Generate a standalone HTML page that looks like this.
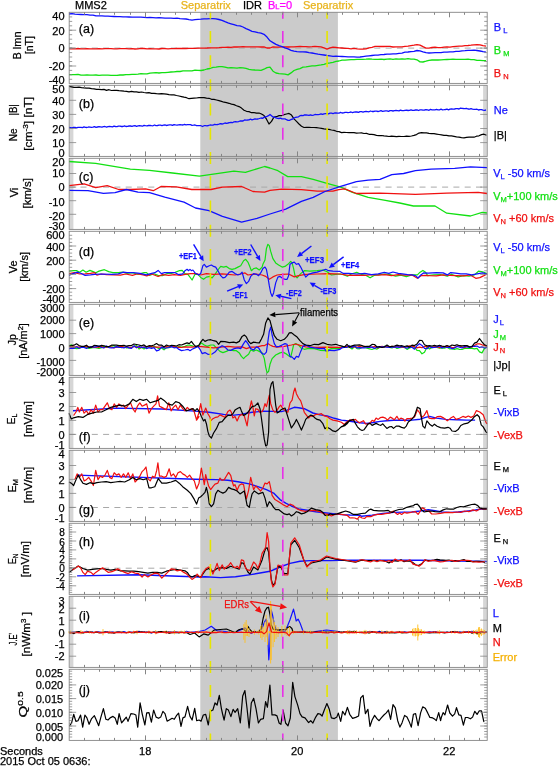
<!DOCTYPE html>
<html><head><meta charset="utf-8"><style>html,body{margin:0;padding:0;background:#fff;overflow:hidden}svg{display:block;will-change:transform}text{font-family:"Liberation Sans",sans-serif;stroke-width:0.25px}</style></head>
<body>
<svg width="560" height="766" viewBox="0 0 560 766" font-family="'Liberation Sans', sans-serif">
<rect width="560" height="766" fill="#fff"/>
<rect x="200.3" y="12.3" width="137.59999999999997" height="728.1" fill="#cbcbcb"/>
<rect x="69.8" y="85.3" width="3.6" height="71.1" fill="#d6d6d6"/>
<rect x="483.09999999999997" y="85.3" width="3.6" height="71.1" fill="#d6d6d6"/>
<rect x="69.8" y="158.3" width="3.6" height="71.1" fill="#d6d6d6"/>
<rect x="483.09999999999997" y="158.3" width="3.6" height="71.1" fill="#d6d6d6"/>
<rect x="69.8" y="304.3" width="3.6" height="71.1" fill="#d6d6d6"/>
<rect x="483.09999999999997" y="304.3" width="3.6" height="71.1" fill="#d6d6d6"/>
<rect x="69.8" y="377.3" width="3.6" height="71.1" fill="#d6d6d6"/>
<rect x="483.09999999999997" y="377.3" width="3.6" height="71.1" fill="#d6d6d6"/>
<rect x="69.8" y="450.3" width="3.6" height="71.1" fill="#d6d6d6"/>
<rect x="483.09999999999997" y="450.3" width="3.6" height="71.1" fill="#d6d6d6"/>
<rect x="69.8" y="596.3" width="3.6" height="71.1" fill="#d6d6d6"/>
<rect x="483.09999999999997" y="596.3" width="3.6" height="71.1" fill="#d6d6d6"/>
<line x1="69.2" y1="48.1" x2="487.2" y2="48.1" stroke="#a8a8a8" stroke-width="1" stroke-dasharray="6,5.3"/>
<line x1="69.2" y1="187.1" x2="487.2" y2="187.1" stroke="#a8a8a8" stroke-width="1" stroke-dasharray="6,5.3"/>
<line x1="69.2" y1="434.4" x2="487.2" y2="434.4" stroke="#a8a8a8" stroke-width="1" stroke-dasharray="6,5.3"/>
<line x1="69.2" y1="507.5" x2="487.2" y2="507.5" stroke="#a8a8a8" stroke-width="1" stroke-dasharray="6,5.3"/>
<line x1="69.2" y1="568.2" x2="487.2" y2="568.2" stroke="#a8a8a8" stroke-width="1" stroke-dasharray="6,5.3"/>
<polyline points="69.0,48.8 72.0,48.8 75.0,48.8 78.0,48.5 81.0,48.9 84.0,48.8 87.0,48.6 90.0,48.8 93.0,48.8 96.0,48.8 99.0,48.7 102.0,48.8 105.0,48.6 108.0,48.7 111.0,48.7 114.0,48.8 117.0,48.8 120.0,48.7 123.0,48.6 126.0,48.7 129.0,48.8 132.0,48.7 135.0,49.0 138.0,48.9 141.0,48.4 144.0,48.5 147.0,48.8 150.0,48.7 153.0,48.8 156.0,48.8 159.0,49.0 162.0,48.5 165.0,48.6 168.0,48.9 171.0,48.7 174.0,48.7 177.0,48.5 180.0,48.3 183.0,48.5 186.0,48.5 189.0,48.3 192.0,48.3 195.0,48.4 198.0,48.2 201.0,48.2 204.0,48.1 207.0,48.0 210.0,47.8 213.0,47.8 216.0,47.8 219.0,47.6 222.0,47.3 225.0,47.4 228.0,47.2 231.0,47.3 234.0,46.9 237.0,47.0 240.0,46.8 243.0,46.6 246.0,46.8 249.0,46.9 252.0,46.9 255.0,46.8 258.0,46.8 261.0,47.0 264.0,46.9 267.0,48.0 270.0,48.0 273.0,46.9 276.0,47.2 279.0,47.2 282.0,46.9 285.0,46.8 288.0,47.0 291.0,46.8 294.0,46.9 297.0,46.6 300.0,46.4 303.0,46.6 306.0,46.6 309.0,46.8 312.0,46.7 315.0,46.5 318.0,46.6 321.0,46.9 324.0,47.9 327.0,49.2 330.0,47.9 333.0,47.2 336.0,47.5 339.0,47.8 342.0,48.0 345.0,48.3 348.0,48.4 351.0,48.8 354.0,48.4 357.0,48.9 360.0,49.1 363.0,49.0 366.0,48.8 369.0,47.9 372.0,47.3 375.0,46.3 378.0,46.3 381.0,46.5 384.0,46.5 387.0,46.4 390.0,46.4 393.0,47.0 396.0,46.8 399.0,46.9 402.0,46.8 405.0,46.3 408.0,46.1 411.0,45.6 414.0,45.2 417.0,44.7 420.0,45.2 423.0,46.7 426.0,48.1 429.0,48.1 432.0,47.5 435.0,47.2 438.0,47.6 441.0,47.7 444.0,47.1 447.0,46.9 450.0,47.1 453.0,46.6 456.0,46.4 459.0,46.2 462.0,46.1 465.0,45.7 468.0,45.5 471.0,45.2 474.0,44.8 477.0,44.6 480.0,44.9 483.0,45.7 486.0,46.1" fill="none" stroke="#f01010" stroke-width="1.3" stroke-linejoin="round" />
<polyline points="69.0,74.6 72.0,74.6 75.0,74.6 78.0,74.3 81.0,75.1 84.0,75.1 87.0,74.9 90.0,75.1 93.0,75.1 96.0,75.0 99.0,75.3 102.0,75.1 105.0,75.2 108.0,75.1 111.0,75.4 114.0,75.4 117.0,75.4 120.0,75.0 123.0,75.0 126.0,74.6 129.0,74.7 132.0,74.4 135.0,74.3 138.0,74.1 141.0,73.7 144.0,73.8 147.0,73.9 150.0,73.1 153.0,72.9 156.0,72.7 159.0,73.0 162.0,72.7 165.0,72.6 168.0,72.3 171.0,72.0 174.0,71.8 177.0,71.5 180.0,71.5 183.0,70.9 186.0,70.9 189.0,70.8 192.0,70.8 195.0,70.2 198.0,70.4 201.0,70.5 204.0,70.0 207.0,69.0 210.0,68.5 213.0,67.3 216.0,67.2 219.0,66.6 222.0,66.6 225.0,67.2 228.0,67.8 231.0,67.7 234.0,67.9 237.0,68.1 240.0,67.7 243.0,67.8 246.0,68.4 249.0,69.4 252.0,69.8 255.0,70.0 258.0,70.1 261.0,70.4 264.0,69.2 267.0,67.6 270.0,67.2 273.0,71.2 276.0,73.0 279.0,73.6 282.0,73.8 285.0,74.2 288.0,74.9 291.0,72.9 294.0,70.5 297.0,69.4 300.0,68.7 303.0,67.2 306.0,66.8 309.0,66.3 312.0,65.9 315.0,65.8 318.0,65.3 321.0,64.9 324.0,64.3 327.0,63.4 330.0,62.9 333.0,62.3 336.0,61.3 339.0,61.0 342.0,60.1 345.0,60.1 348.0,59.8 351.0,59.7 354.0,59.6 357.0,59.4 360.0,59.3 363.0,59.3 366.0,59.2 369.0,59.0 372.0,59.2 375.0,59.3 378.0,59.3 381.0,59.2 384.0,59.5 387.0,59.1 390.0,58.9 393.0,59.4 396.0,58.8 399.0,59.2 402.0,58.9 405.0,59.1 408.0,58.7 411.0,59.2 414.0,59.1 417.0,59.8 420.0,61.9 423.0,62.0 426.0,61.2 429.0,60.3 432.0,60.0 435.0,59.9 438.0,60.0 441.0,59.9 444.0,59.6 447.0,59.5 450.0,59.4 453.0,59.2 456.0,59.3 459.0,59.3 462.0,59.3 465.0,59.4 468.0,59.1 471.0,59.6 474.0,59.7 477.0,60.4 480.0,60.3 483.0,60.7 486.0,60.7" fill="none" stroke="#12e012" stroke-width="1.3" stroke-linejoin="round" />
<polyline points="69.0,14.0 72.0,13.7 75.0,14.2 78.0,14.3 81.0,14.5 84.0,14.7 87.0,14.7 90.0,15.1 93.0,15.2 96.0,15.9 99.0,15.8 102.0,15.9 105.0,16.1 108.0,16.2 111.0,16.4 114.0,16.5 117.0,16.7 120.0,16.7 123.0,16.9 126.0,16.9 129.0,17.0 132.0,17.2 135.0,17.2 138.0,17.1 141.0,17.2 144.0,17.4 147.0,17.7 150.0,17.5 153.0,17.6 156.0,17.8 159.0,17.7 162.0,17.9 165.0,18.1 168.0,18.2 171.0,18.2 174.0,18.4 177.0,18.1 180.0,18.6 183.0,18.8 186.0,19.0 189.0,19.7 192.0,20.1 195.0,19.7 198.0,19.4 201.0,19.2 204.0,18.9 207.0,18.9 210.0,18.7 213.0,18.6 216.0,18.8 219.0,19.5 222.0,20.3 225.0,21.7 228.0,22.9 231.0,23.8 234.0,24.7 237.0,25.6 240.0,25.8 243.0,27.0 246.0,28.6 249.0,29.9 252.0,31.3 255.0,31.9 258.0,32.7 261.0,33.2 264.0,34.3 267.0,37.1 270.0,40.8 273.0,42.6 276.0,44.4 279.0,45.7 282.0,46.6 285.0,47.9 288.0,48.9 291.0,50.3 294.0,51.2 297.0,51.7 300.0,51.8 303.0,51.9 306.0,52.0 309.0,52.6 312.0,53.0 315.0,53.6 318.0,54.2 321.0,54.6 324.0,55.0 327.0,55.5 330.0,55.9 333.0,56.3 336.0,56.1 339.0,56.4 342.0,56.5 345.0,56.7 348.0,56.9 351.0,56.8 354.0,56.9 357.0,57.1 360.0,57.0 363.0,56.6 366.0,56.2 369.0,55.8 372.0,55.5 375.0,55.2 378.0,55.1 381.0,54.7 384.0,54.5 387.0,54.2 390.0,54.1 393.0,53.8 396.0,53.8 399.0,53.4 402.0,53.1 405.0,52.2 408.0,52.0 411.0,51.6 414.0,51.3 417.0,50.5 420.0,50.9 423.0,51.9 426.0,52.7 429.0,53.0 432.0,52.8 435.0,52.7 438.0,52.6 441.0,52.6 444.0,52.1 447.0,52.1 450.0,51.8 453.0,51.8 456.0,51.4 459.0,51.3 462.0,50.8 465.0,50.7 468.0,50.4 471.0,50.4 474.0,50.1 477.0,50.5 480.0,51.0 483.0,51.7 486.0,52.1" fill="none" stroke="#1010ff" stroke-width="1.3" stroke-linejoin="round" />
<polyline points="69.0,86.5 71.5,86.8 74.0,87.4 76.5,87.4 79.0,87.2 81.5,87.7 84.0,87.8 86.5,88.2 89.0,88.1 91.5,88.7 94.0,88.9 96.5,89.4 99.0,89.4 101.5,89.6 104.0,89.4 106.5,90.4 109.0,89.7 111.5,90.5 114.0,90.4 116.5,90.4 119.0,90.7 121.5,90.8 124.0,91.2 126.5,91.3 129.0,91.8 131.5,91.3 134.0,91.9 136.5,91.8 139.0,92.4 141.5,92.0 144.0,92.5 146.5,92.8 149.0,92.6 151.5,93.3 154.0,93.3 156.5,93.7 159.0,93.9 161.5,93.7 164.0,93.9 166.5,94.2 169.0,94.6 171.5,94.8 174.0,94.9 176.5,95.5 179.0,96.0 181.5,96.6 184.0,97.2 186.5,97.7 189.0,98.7 191.5,98.3 194.0,98.1 196.5,98.0 199.0,97.6 201.5,97.5 204.0,97.6 206.5,98.2 209.0,98.3 211.5,99.3 214.0,99.4 216.5,100.0 219.0,100.7 221.5,101.4 224.0,102.2 226.5,102.7 229.0,103.3 231.5,104.1 234.0,104.6 236.5,105.7 239.0,106.6 241.5,108.1 244.0,110.3 246.5,111.3 249.0,111.6 251.5,112.7 254.0,112.6 256.5,113.1 259.0,113.0 261.5,114.0 264.0,115.6 266.5,119.2 269.0,124.0 271.5,121.4 274.0,117.0 276.5,116.7 279.0,115.6 281.5,115.7 284.0,114.6 286.5,114.0 289.0,113.4 291.5,115.1 294.0,118.8 296.5,121.3 299.0,124.0 301.5,126.2 304.0,127.5 306.5,127.3 309.0,127.3 311.5,127.5 314.0,127.5 316.5,127.7 319.0,128.0 321.5,128.3 324.0,128.8 326.5,129.1 329.0,129.3 331.5,130.0 334.0,130.4 336.5,131.3 339.0,131.6 341.5,132.6 344.0,132.4 346.5,132.5 349.0,132.7 351.5,132.7 354.0,132.7 356.5,133.1 359.0,133.0 361.5,132.9 364.0,133.5 366.5,133.4 369.0,134.3 371.5,134.3 374.0,134.6 376.5,135.3 379.0,135.6 381.5,135.5 384.0,135.9 386.5,136.2 389.0,136.5 391.5,136.2 394.0,136.3 396.5,136.6 399.0,136.4 401.5,136.5 404.0,136.5 406.5,136.2 409.0,136.3 411.5,136.0 414.0,135.4 416.5,134.6 419.0,133.1 421.5,132.6 424.0,132.8 426.5,132.9 429.0,133.3 431.5,133.6 434.0,133.7 436.5,134.1 439.0,134.5 441.5,134.9 444.0,135.3 446.5,135.3 449.0,135.9 451.5,135.9 454.0,136.4 456.5,136.9 459.0,137.2 461.5,137.6 464.0,137.8 466.5,137.4 469.0,137.2 471.5,137.1 474.0,137.2 476.5,136.2 479.0,135.8 481.5,134.6 484.0,134.2 486.5,135.3" fill="none" stroke="#000" stroke-width="1.2" stroke-linejoin="round" />
<polyline points="69.0,127.5 70.5,127.7 72.0,127.9 73.5,127.4 75.0,127.3 76.5,127.9 78.0,127.3 79.5,127.3 81.0,127.4 82.5,127.6 84.0,126.9 85.5,127.3 87.0,127.5 88.5,127.0 90.0,127.1 91.5,127.3 93.0,127.2 94.5,126.6 96.0,127.3 97.5,127.0 99.0,126.7 100.5,126.8 102.0,127.1 103.5,126.7 105.0,126.5 106.5,127.1 108.0,126.6 109.5,126.5 111.0,126.6 112.5,126.9 114.0,126.2 115.5,126.5 117.0,126.7 118.5,126.2 120.0,126.2 121.5,126.5 123.0,126.5 124.5,125.8 126.0,126.5 127.5,126.3 129.0,126.0 130.5,126.0 132.0,126.4 133.5,125.9 135.0,125.7 136.5,126.3 138.0,125.9 139.5,125.7 141.0,125.8 142.5,126.2 144.0,125.4 145.5,125.7 147.0,125.9 148.5,125.5 150.0,125.4 151.5,125.7 153.0,125.8 154.5,125.0 156.0,125.6 157.5,125.5 159.0,125.2 160.5,125.1 162.0,125.6 163.5,125.2 165.0,124.9 166.5,125.5 168.0,125.1 169.5,124.9 171.0,124.9 172.5,125.4 174.0,124.6 175.5,124.9 177.0,125.1 178.5,124.8 180.0,124.6 181.5,124.9 183.0,125.0 184.5,124.3 186.0,124.8 187.5,124.7 189.0,124.7 190.5,124.6 192.0,125.3 193.5,125.2 195.0,125.0 196.5,125.7 198.0,125.7 199.5,125.6 201.0,125.7 202.5,126.5 204.0,125.7 205.5,125.7 207.0,125.8 208.5,125.5 210.0,125.0 211.5,125.1 213.0,125.2 214.5,124.3 216.0,124.6 217.5,124.5 219.0,124.1 220.5,123.6 222.0,124.0 223.5,123.6 225.0,123.0 226.5,123.3 228.0,123.0 229.5,122.6 231.0,122.3 232.5,122.7 234.0,121.8 235.5,121.7 237.0,121.8 238.5,121.6 240.0,121.0 241.5,121.0 243.0,121.0 244.5,120.0 246.0,120.1 247.5,120.0 249.0,119.8 250.5,119.2 252.0,119.8 253.5,119.4 255.0,118.8 256.5,119.1 258.0,119.0 259.5,118.5 261.0,118.0 262.5,118.4 264.0,117.4 265.5,116.8 267.0,116.3 268.5,115.7 270.0,114.5 271.5,115.8 273.0,117.1 274.5,117.2 276.0,117.9 277.5,118.3 279.0,118.5 280.5,118.1 282.0,118.9 283.5,118.9 285.0,118.9 286.5,119.7 288.0,120.3 289.5,120.4 291.0,119.5 292.5,119.2 294.0,118.0 295.5,117.4 297.0,117.1 298.5,116.8 300.0,115.7 301.5,115.5 303.0,115.7 304.5,114.8 306.0,115.0 307.5,115.2 309.0,115.4 310.5,114.8 312.0,115.3 313.5,115.1 315.0,114.5 316.5,114.6 318.0,114.7 319.5,114.3 321.0,113.8 322.5,114.4 324.0,113.8 325.5,113.6 327.0,113.6 328.5,113.8 330.0,113.1 331.5,113.2 333.0,113.6 334.5,113.0 336.0,112.9 337.5,113.1 339.0,113.2 340.5,112.4 342.0,113.0 343.5,112.9 345.0,112.4 346.5,112.4 348.0,112.7 349.5,112.4 351.0,112.0 352.5,112.6 354.0,112.2 355.5,112.0 357.0,112.0 358.5,112.3 360.0,111.6 361.5,111.7 363.0,112.1 364.5,111.6 366.0,111.4 367.5,111.6 369.0,111.8 370.5,111.0 372.0,111.5 373.5,111.5 375.0,111.2 376.5,111.1 378.0,111.5 379.5,111.2 381.0,110.7 382.5,111.4 384.0,111.1 385.5,110.8 387.0,110.8 388.5,111.3 390.0,110.6 391.5,110.6 393.0,111.0 394.5,110.7 396.0,110.5 397.5,110.6 399.0,110.9 400.5,110.1 402.0,110.6 403.5,110.6 405.0,110.3 406.5,110.1 408.0,110.5 409.5,110.4 411.0,109.8 412.5,110.4 414.0,110.3 415.5,110.0 417.0,109.9 418.5,110.5 420.0,109.9 421.5,109.8 423.0,110.2 424.5,110.0 426.0,109.7 427.5,109.9 429.0,110.3 430.5,109.4 432.0,109.8 433.5,109.9 435.0,109.8 436.5,109.4 438.0,109.9 439.5,109.8 441.0,109.2 442.5,109.8 444.0,109.7 445.5,109.5 447.0,109.2 448.5,109.8 450.0,109.1 451.5,108.9 453.0,109.2 454.5,109.0 456.0,108.6 457.5,108.6 459.0,109.0 460.5,108.1 462.0,108.3 463.5,108.5 465.0,108.6 466.5,108.3 468.0,109.0 469.5,109.1 471.0,108.6 472.5,109.2 474.0,109.4 475.5,109.3 477.0,109.2 478.5,110.0 480.0,109.6 481.5,109.6 483.0,110.1 484.5,110.3 486.0,110.0" fill="none" stroke="#1010ff" stroke-width="1.3" stroke-linejoin="round" />
<polyline points="69.0,161.5 95.7,163.4 130.3,169.2 149.5,170.4 172.5,173.0 199.4,176.1 218.5,173.4 233.9,171.1 245.4,172.3 264.6,166.5 270.0,168.0 277.9,170.7 287.7,176.6 301.4,176.6 313.2,179.4 327.0,183.3 340.7,187.2 352.5,192.3 368.2,197.4 384.0,200.2 399.7,203.0 413.4,206.0 435.0,206.0 446.8,213.2 470.4,216.0 482.2,212.4 487.0,213.0" fill="none" stroke="#12e012" stroke-width="1.3" stroke-linejoin="round" />
<polyline points="69.0,185.7 84.2,183.8 95.7,187.6 107.2,185.7 118.7,189.5 130.3,189.5 145.6,188.8 153.3,190.7 161.0,186.5 176.3,186.9 191.7,189.5 210.9,189.5 222.4,187.2 241.6,186.5 253.0,191.5 264.6,192.2 270.0,190.4 281.8,189.2 301.4,189.6 317.2,191.1 332.9,191.1 338.8,189.6 344.7,188.8 356.4,193.5 380.0,193.1 415.4,194.3 446.8,193.1 478.2,192.3 487.0,193.5" fill="none" stroke="#f01010" stroke-width="1.3" stroke-linejoin="round" />
<polyline points="69.0,190.3 88.0,190.7 103.4,193.4 115.0,192.6 126.4,189.5 138.0,192.2 149.5,192.6 164.8,197.2 184.0,202.2 195.5,208.0 209.0,210.7 222.4,216.4 241.6,222.2 257.0,218.3 270.0,214.0 285.7,209.2 301.4,201.4 313.2,197.4 325.0,191.5 340.7,186.4 356.4,181.7 368.2,180.1 380.0,179.4 391.8,174.6 403.6,173.5 415.4,170.7 431.1,169.1 454.7,168.4 470.4,166.8 487.0,167.6" fill="none" stroke="#1010ff" stroke-width="1.3" stroke-linejoin="round" />
<polyline points="69.0,271.1 73.3,270.6 76.5,270.6 79.7,272.2 82.9,270.0 86.1,272.2 89.9,270.4 93.1,271.6 95.8,272.7 99.0,271.1 104.4,269.7 108.7,271.6 112.9,272.7 118.3,272.7 122.6,272.2 127.0,273.3 132.4,272.7 137.7,274.3 144.1,272.7 146.3,272.5 149.5,275.4 153.8,273.8 158.1,275.4 162.4,275.7 167.7,273.3 172.0,273.3 175.2,272.2 179.5,270.6 182.2,270.4 185.0,273.6 187.9,274.3 192.1,280.0 195.0,274.3 197.9,274.3 200.7,277.4 203.6,279.3 206.4,277.1 210.0,276.4 212.1,277.9 215.0,274.3 217.9,270.0 220.7,266.4 223.6,267.1 226.4,266.4 229.3,268.6 232.1,269.3 235.0,268.6 237.9,267.1 240.7,265.7 243.6,260.7 245.7,259.3 247.9,262.1 250.0,267.1 251.4,270.7 253.6,268.6 256.4,267.9 259.3,270.0 262.1,267.1 262.9,264.3 265.0,260.0 266.4,248.6 267.9,244.3 269.3,245.7 270.7,251.4 272.9,258.6 275.7,262.9 278.6,265.0 282.1,267.1 285.0,266.4 287.9,264.3 290.7,261.4 292.1,262.9 293.6,268.6 295.0,275.7 297.1,277.9 300.7,273.6 304.3,270.7 310.0,271.1 317.1,270.7 322.9,270.0 327.1,271.7 331.4,275.0 335.7,274.3 340.0,274.0 343.4,274.7 347.4,276.1 351.4,274.0 356.7,272.4 362.1,274.7 366.1,275.4 370.1,277.8 374.1,275.4 379.5,274.7 384.9,274.0 390.2,274.7 395.6,276.1 400.9,275.1 406.3,276.7 412.0,274.9 417.4,274.9 420.1,272.2 422.9,270.4 425.6,272.2 427.6,275.6 433.7,274.9 440.5,274.5 447.3,276.2 451.3,274.2 458.1,276.9 463.6,275.6 469.0,276.2 474.4,274.9 478.5,271.2 482.6,271.8 487.0,273.5" fill="none" stroke="#12e012" stroke-width="1.2" stroke-linejoin="round" />
<polyline points="69.0,273.6 74.4,272.7 79.7,274.0 85.1,273.8 90.4,273.3 94.7,272.7 96.9,275.1 101.2,274.0 106.5,274.6 114.0,274.9 120.4,275.1 125.8,274.0 132.4,275.4 137.7,273.8 143.1,274.9 146.8,275.9 151.7,274.0 158.1,276.5 162.4,274.6 168.8,275.4 174.2,274.6 180.6,275.4 185.0,274.3 190.7,273.6 196.4,273.6 200.7,275.0 206.4,273.6 213.6,274.3 222.1,273.9 227.9,274.3 235.0,275.0 240.7,274.0 245.0,272.9 247.9,275.0 252.1,274.3 256.4,274.0 262.1,275.0 265.7,276.4 269.3,279.3 272.9,276.9 277.1,275.0 282.9,274.3 288.6,274.0 294.3,276.9 298.6,275.7 305.7,274.3 317.1,274.0 328.6,273.6 340.0,274.0 348.7,275.4 358.1,275.1 364.8,275.4 371.5,274.7 378.2,275.1 384.9,274.7 391.5,275.7 398.2,274.7 404.9,275.1 412.0,274.9 417.4,278.3 421.5,275.6 425.6,275.3 429.6,275.6 436.4,275.8 443.2,274.9 450.0,275.3 456.8,275.6 463.6,275.8 470.3,274.9 475.8,278.3 479.8,277.6 483.9,275.6 487.0,273.9" fill="none" stroke="#f01010" stroke-width="1.2" stroke-linejoin="round" />
<polyline points="69.0,275.4 72.2,273.8 77.6,272.2 80.8,273.3 85.1,275.4 90.4,274.9 94.7,274.3 101.2,274.0 111.9,274.3 118.3,273.8 123.7,272.2 127.0,272.7 133.4,272.7 139.9,273.3 146.3,274.9 151.7,273.3 154.9,272.7 158.1,270.4 161.3,273.6 164.5,272.7 169.9,272.7 175.2,272.7 178.4,274.6 182.7,273.8 185.0,270.7 187.1,269.3 188.6,270.7 190.0,269.3 191.4,270.7 192.9,270.0 195.0,272.9 198.6,275.0 200.7,273.6 202.9,265.7 204.3,264.3 206.4,267.1 209.3,265.7 211.4,265.0 213.6,266.4 215.7,267.1 217.9,270.7 220.7,275.7 222.9,277.9 225.0,277.4 227.1,275.0 229.3,272.1 232.1,271.4 235.0,273.6 237.9,275.0 240.0,274.3 242.1,272.1 244.3,280.0 246.4,283.6 248.6,281.4 250.7,276.4 253.6,273.6 256.4,274.3 258.6,275.7 260.7,272.9 262.9,268.6 265.0,267.1 266.4,269.3 267.9,277.1 269.3,285.7 270.7,292.9 272.1,296.4 273.6,292.9 275.7,282.9 277.9,277.1 280.0,276.4 282.9,278.6 285.0,279.3 287.1,279.3 288.6,275.7 290.0,264.3 292.1,262.9 294.3,262.1 296.4,264.3 298.6,263.6 300.7,267.1 302.9,271.4 305.7,277.1 308.6,274.3 312.9,272.9 317.1,272.1 321.4,270.7 325.7,269.3 328.6,270.7 332.9,271.1 340.0,271.4 343.4,273.4 348.7,273.4 356.7,274.0 364.8,273.4 371.5,274.7 378.2,273.8 384.2,272.4 388.9,273.4 392.9,272.0 398.2,273.4 402.3,273.8 407.6,274.7 412.0,274.9 415.4,275.6 418.1,278.0 420.8,274.9 423.5,272.9 428.3,273.1 436.4,272.6 443.2,272.9 447.3,274.9 450.7,272.6 455.4,273.1 460.8,273.9 466.3,273.9 471.7,274.9 477.1,273.9 482.6,272.9 487.0,274.2" fill="none" stroke="#1010ff" stroke-width="1.2" stroke-linejoin="round" />
<polyline points="69.0,345.8 71.5,344.9 74.0,348.2 76.5,348.6 79.0,348.4 81.5,347.0 84.0,347.2 86.5,347.1 89.0,348.4 91.5,348.0 94.0,347.3 96.5,347.9 99.0,348.4 101.5,347.6 104.0,346.4 106.5,347.2 109.0,347.0 111.5,346.0 114.0,345.7 116.5,347.4 119.0,346.5 121.5,347.6 124.0,346.7 126.5,347.9 129.0,348.0 131.5,347.6 134.0,346.3 136.5,345.7 139.0,349.0 141.5,347.3 144.0,348.9 146.5,347.1 149.0,346.4 151.5,347.3 154.0,346.3 156.5,347.3 159.0,348.6 161.5,348.0 164.0,349.8 166.5,347.6 169.0,347.6 171.5,346.6 174.0,346.6 176.5,347.5 179.0,346.6 181.5,347.0 185.0,346.4 187.9,345.0 190.7,345.4 193.6,346.4 196.4,347.1 199.3,345.0 201.4,342.9 204.3,345.0 207.1,346.4 210.7,345.0 213.6,345.0 216.4,347.9 220.0,351.4 222.9,352.6 226.4,351.4 229.3,350.0 233.6,350.7 236.4,350.7 239.3,352.9 241.4,356.4 243.6,358.6 245.7,356.4 248.6,354.3 250.7,350.0 253.6,351.1 256.4,350.0 259.3,351.4 262.1,352.9 264.3,358.6 265.7,367.1 267.1,372.9 268.6,371.4 270.0,364.3 272.1,358.6 275.7,355.0 280.0,352.9 282.9,352.1 285.7,353.6 288.6,355.7 290.7,357.1 292.1,351.4 293.6,345.0 295.7,343.6 298.6,345.0 301.4,348.3 304.3,349.3 308.6,348.3 314.3,348.6 320.0,350.3 325.7,350.7 331.4,348.6 340.0,348.3 342.0,346.7 344.5,346.8 347.0,346.8 349.5,347.3 352.0,349.0 354.5,346.5 357.0,348.6 359.5,348.8 362.0,347.5 364.5,347.2 367.0,348.2 369.5,348.8 372.0,349.5 374.5,348.5 377.0,349.1 379.5,347.4 382.0,347.1 384.5,346.4 387.0,346.9 389.5,347.5 392.0,348.0 394.5,346.7 397.0,348.5 399.5,347.7 402.0,347.3 404.5,347.2 407.0,349.4 409.5,347.9 412.0,347.1 414.5,347.2 417.0,350.3 419.5,350.7 422.0,353.8 424.5,352.3 427.0,347.0 429.5,349.0 432.0,347.6 434.5,346.9 437.0,347.4 439.5,348.2 442.0,348.1 444.5,348.1 447.0,347.2 449.5,348.8 452.0,349.0 454.5,349.3 457.0,348.6 459.5,349.3 462.0,349.5 464.5,348.4 467.0,348.5 469.5,348.3 472.0,348.3 474.5,348.8 477.0,348.3 479.5,351.9 482.0,352.9 484.5,348.4 487.0,347.2" fill="none" stroke="#12e012" stroke-width="1.2" stroke-linejoin="round" />
<polyline points="69.0,346.5 71.5,347.1 74.0,346.9 76.5,346.8 79.0,347.1 81.5,347.4 84.0,347.0 86.5,346.5 89.0,347.2 91.5,346.8 94.0,347.4 96.5,346.9 99.0,347.3 101.5,346.5 104.0,347.7 106.5,346.7 109.0,346.8 111.5,347.1 114.0,347.9 116.5,347.0 119.0,347.1 121.5,346.1 124.0,347.4 126.5,346.9 129.0,347.3 131.5,347.7 134.0,346.3 136.5,346.9 139.0,347.5 141.5,347.6 144.0,347.1 146.5,346.6 149.0,346.7 151.5,346.7 154.0,347.1 156.5,347.2 159.0,347.1 161.5,347.1 164.0,347.1 166.5,346.7 169.0,347.0 171.5,346.2 174.0,346.7 176.5,347.3 179.0,347.2 181.5,347.5 185.0,346.9 192.1,347.1 199.3,346.4 206.4,347.1 213.6,347.9 220.7,347.1 227.9,346.4 235.0,347.1 242.1,346.9 246.4,348.6 250.7,347.1 256.4,347.1 262.1,345.7 264.3,345.7 267.9,343.6 270.0,345.0 272.9,346.4 277.1,347.1 284.3,346.4 291.4,345.0 295.7,344.0 300.0,345.4 305.7,346.9 317.1,347.4 327.1,347.1 340.0,347.4 342.0,347.6 344.5,347.1 347.0,346.3 349.5,346.8 352.0,346.7 354.5,346.8 357.0,347.2 359.5,346.3 362.0,347.4 364.5,346.3 367.0,346.8 369.5,347.3 372.0,347.2 374.5,346.6 377.0,347.8 379.5,347.1 382.0,346.4 384.5,346.9 387.0,346.5 389.5,347.1 392.0,346.2 394.5,347.1 397.0,346.0 399.5,347.4 402.0,347.0 404.5,347.6 407.0,346.5 409.5,345.9 412.0,346.2 414.5,346.8 417.0,347.9 419.5,347.2 422.0,347.6 424.5,346.5 427.0,346.6 429.5,346.7 432.0,347.5 434.5,346.6 437.0,346.8 439.5,347.7 442.0,346.5 444.5,346.9 447.0,346.2 449.5,346.8 452.0,347.3 454.5,347.5 457.0,346.2 459.5,345.6 462.0,347.2 464.5,347.7 467.0,346.5 469.5,347.0 472.0,346.9 474.5,345.4 477.0,343.9 479.5,343.9 482.0,344.8 484.5,345.3 487.0,346.6" fill="none" stroke="#f01010" stroke-width="1.2" stroke-linejoin="round" />
<polyline points="69.0,348.6 71.5,348.2 74.0,348.4 76.5,346.7 79.0,348.3 81.5,347.5 84.0,347.4 86.5,348.5 89.0,347.3 91.5,346.6 94.0,347.2 96.5,346.6 99.0,346.1 101.5,347.5 104.0,347.9 106.5,345.9 109.0,347.6 111.5,347.8 114.0,347.7 116.5,346.6 119.0,347.4 121.5,347.5 124.0,347.9 126.5,346.6 129.0,347.9 131.5,348.4 134.0,345.8 136.5,347.8 139.0,346.4 141.5,347.5 144.0,347.1 146.5,348.6 149.0,347.6 151.5,348.3 154.0,347.6 156.5,350.9 159.0,350.1 161.5,347.1 164.0,348.1 166.5,348.0 169.0,347.5 171.5,346.6 174.0,347.8 176.5,347.5 179.0,349.4 181.5,350.6 185.0,350.0 187.9,349.3 190.0,350.7 192.1,349.3 195.0,347.9 197.9,346.4 200.0,349.3 202.1,353.6 205.0,352.6 207.9,354.3 212.1,354.0 215.0,352.1 217.9,348.6 222.1,345.7 225.0,347.1 227.9,350.0 230.7,350.4 234.3,348.6 237.9,347.9 240.7,348.6 243.6,343.6 245.7,340.7 247.9,343.6 250.7,348.6 253.6,350.0 256.4,346.9 258.6,347.9 260.7,351.4 262.1,353.6 264.3,354.3 266.4,352.1 267.9,341.4 269.3,331.4 270.7,327.1 272.1,335.0 274.3,343.6 276.4,346.9 279.3,346.4 282.1,345.0 285.0,343.6 287.1,344.3 288.6,351.4 290.0,356.4 292.1,357.1 294.3,359.3 296.4,356.4 298.6,357.1 300.7,351.4 302.9,346.4 305.7,345.0 310.0,347.1 314.3,347.9 320.0,348.6 324.3,348.3 326.4,351.4 330.0,350.3 334.3,350.7 340.0,349.3 342.0,347.7 344.5,347.5 347.0,347.3 349.5,345.7 352.0,347.6 354.5,345.8 357.0,347.9 359.5,347.7 362.0,347.9 364.5,347.9 367.0,347.5 369.5,346.9 372.0,347.1 374.5,348.4 377.0,346.9 379.5,347.1 382.0,346.8 384.5,346.9 387.0,347.1 389.5,347.5 392.0,347.1 394.5,347.1 397.0,346.9 399.5,347.4 402.0,346.4 404.5,347.3 407.0,348.2 409.5,346.8 412.0,347.3 414.5,349.2 417.0,345.7 419.5,343.7 422.0,345.4 424.5,348.3 427.0,348.7 429.5,346.4 432.0,347.7 434.5,347.3 437.0,346.9 439.5,345.9 442.0,348.0 444.5,346.7 447.0,347.5 449.5,347.4 452.0,348.6 454.5,348.1 457.0,346.5 459.5,347.1 462.0,348.0 464.5,346.4 467.0,347.0 469.5,347.5 472.0,346.2 474.5,346.4 477.0,346.1 479.5,347.5 482.0,346.9 484.5,348.0 487.0,347.4" fill="none" stroke="#1010ff" stroke-width="1.2" stroke-linejoin="round" />
<polyline points="69.0,345.9 71.5,345.6 74.0,345.2 76.5,343.8 79.0,345.6 81.5,346.3 84.0,346.4 86.5,345.2 89.0,347.4 91.5,347.2 94.0,345.4 96.5,345.5 99.0,346.4 101.5,345.4 104.0,345.8 106.5,346.6 109.0,346.6 111.5,345.2 114.0,345.2 116.5,345.2 119.0,345.6 121.5,345.7 124.0,345.3 126.5,346.2 129.0,345.6 131.5,345.6 134.0,344.0 136.5,344.5 139.0,345.0 141.5,345.9 144.0,344.9 146.5,346.8 149.0,345.7 151.5,345.8 154.0,345.0 156.5,343.5 159.0,345.2 161.5,345.1 164.0,346.9 166.5,345.0 169.0,346.0 171.5,345.4 174.0,345.5 176.5,346.1 179.0,344.7 181.5,345.0 185.0,343.6 187.1,342.9 189.3,343.6 191.4,341.4 193.6,344.3 195.7,346.4 198.6,345.7 200.7,342.1 202.9,339.3 205.0,341.4 207.9,340.0 210.7,339.7 213.6,340.7 216.4,341.4 218.6,344.3 220.7,341.4 225.0,341.7 229.3,342.6 233.6,342.1 236.4,342.9 239.3,341.4 242.1,336.4 244.3,335.0 246.4,336.9 248.6,341.4 250.7,343.6 253.6,342.1 256.4,342.6 259.3,342.9 261.4,339.0 263.6,334.3 265.7,322.9 267.9,317.9 270.0,320.7 272.1,328.6 274.3,335.7 277.1,339.3 280.7,340.7 284.3,339.3 287.1,336.4 289.3,332.9 291.4,332.6 294.3,335.0 297.1,337.1 300.0,340.7 302.9,343.6 305.7,345.0 310.0,345.7 314.3,344.3 318.6,344.6 322.9,342.6 327.1,344.3 331.4,345.0 335.7,344.3 340.0,345.7 342.0,346.1 344.5,347.0 347.0,344.4 349.5,347.1 352.0,345.8 354.5,345.2 357.0,345.2 359.5,344.9 362.0,345.6 364.5,346.5 367.0,346.3 369.5,346.3 372.0,344.4 374.5,344.5 377.0,347.0 379.5,346.6 382.0,347.5 384.5,346.8 387.0,345.0 389.5,346.8 392.0,346.3 394.5,346.0 397.0,345.1 399.5,345.8 402.0,345.7 404.5,346.5 407.0,345.9 409.5,347.1 412.0,345.1 414.5,345.6 417.0,343.9 419.5,340.4 422.0,340.5 424.5,344.8 427.0,345.9 429.5,345.6 432.0,346.1 434.5,345.3 437.0,346.0 439.5,345.3 442.0,346.0 444.5,346.6 447.0,345.5 449.5,346.5 452.0,345.0 454.5,345.6 457.0,344.7 459.5,345.7 462.0,345.9 464.5,345.6 467.0,345.6 469.5,346.9 472.0,346.7 474.5,343.1 477.0,342.1 479.5,338.5 482.0,341.8 484.5,344.8 487.0,345.8" fill="none" stroke="#000" stroke-width="1.2" stroke-linejoin="round" />
<polyline points="73.0,410.8 115.4,408.1 161.8,409.0 195.0,411.1 209.3,412.3 223.6,414.4 232.1,415.4 240.7,414.4 252.1,412.3 263.6,411.1 281.4,411.6 287.1,410.1 294.3,407.3 298.6,407.7 304.3,408.7 312.9,413.0 320.0,414.9 327.1,415.9 334.3,418.3 341.4,420.1 346.7,420.7 353.4,421.7 360.1,422.8 366.8,423.4 373.5,422.5 380.2,421.4 386.9,420.7 393.5,420.3 406.9,420.3 412.0,420.1 420.1,419.2 425.6,417.4 429.6,416.4 436.4,418.1 445.9,419.4 456.8,419.7 466.3,420.1 475.1,420.1" fill="none" stroke="#1010ff" stroke-width="1.4" stroke-linejoin="round" />
<polyline points="73.6,415.5 76.0,412.0 77.8,407.4 79.4,412.0 81.8,407.4 84.1,413.2 86.4,410.9 88.7,414.4 91.0,409.7 93.4,413.2 95.7,405.1 98.0,412.0 100.3,409.7 102.6,409.7 105.0,406.2 107.3,402.8 109.6,408.6 111.9,409.7 114.2,403.9 116.6,407.4 118.9,403.9 121.2,406.2 123.5,405.1 125.8,408.6 128.2,405.1 130.5,402.8 132.8,408.6 135.1,412.0 137.4,406.2 139.8,402.8 142.1,406.2 144.4,405.1 146.7,403.9 149.0,413.2 151.4,408.6 153.7,406.2 156.0,403.9 157.6,395.8 159.5,406.2 161.8,407.4 164.1,408.6 166.4,409.7 168.8,402.8 171.1,410.9 173.4,407.4 175.7,405.1 178.0,409.7 180.4,405.1 182.7,408.6 185.0,410.9 187.3,407.4 189.6,409.7 192.0,408.6 194.3,412.0 196.6,420.2 199.0,416.7 196.4,420.1 198.6,413.7 200.7,403.7 202.9,415.1 204.3,411.6 205.7,408.0 207.9,413.7 210.0,417.3 210.7,420.9 212.9,418.7 215.7,417.3 217.9,416.9 220.0,414.9 222.1,415.9 225.0,417.3 227.9,411.6 230.0,410.1 231.4,412.3 232.9,418.0 235.0,416.6 237.1,420.9 239.3,415.9 242.1,414.4 244.3,415.9 245.7,420.9 247.1,425.9 248.6,415.1 250.0,407.3 251.4,400.9 252.9,407.3 254.3,415.9 255.7,408.7 257.9,409.4 260.0,412.3 262.1,411.6 263.6,408.7 265.0,403.7 266.4,406.6 267.9,400.9 269.3,395.1 270.7,403.7 272.9,410.1 275.0,412.3 277.1,410.1 279.3,406.6 280.7,405.1 282.9,408.7 285.7,410.9 287.9,412.3 290.0,403.0 292.1,400.1 293.6,392.3 295.0,388.0 296.4,393.7 298.6,398.0 300.7,400.9 302.1,405.1 304.3,412.3 306.4,415.1 308.6,418.0 310.7,415.9 312.9,416.3 315.7,414.4 318.6,414.4 321.4,413.7 324.3,415.9 327.1,416.6 330.0,418.7 332.9,420.1 337.1,420.9 341.4,422.3 344.3,424.4 347.1,421.6 350.0,420.1 351.4,419.8 353.4,420.1 355.4,419.4 357.4,421.4 359.4,422.8 361.4,421.7 363.4,420.7 365.4,423.8 368.1,424.1 370.1,422.8 372.1,420.3 374.1,421.4 376.1,418.1 378.2,419.4 380.2,417.7 382.8,417.1 385.5,418.1 387.5,420.1 390.2,417.1 392.2,418.1 394.2,419.8 396.9,416.3 398.9,419.8 400.9,418.1 402.9,418.7 404.9,421.2 406.9,418.7 409.6,418.7 412.3,418.1 414.7,416.7 417.4,409.9 419.5,412.6 421.5,417.4 424.2,415.4 426.9,410.6 429.0,418.1 431.7,418.7 434.4,418.7 437.1,416.7 440.5,416.4 443.9,418.1 447.3,420.8 450.7,418.1 453.4,416.4 456.1,419.4 459.5,418.3 462.9,416.4 465.6,417.4 468.3,416.0 471.0,417.4 473.7,416.0 476.4,410.6 479.8,412.0 483.2,414.7 485.9,422.1 487.0,424.0" fill="none" stroke="#f01010" stroke-width="1.2" stroke-linejoin="round" />
<polyline points="69.0,413.2 71.3,419.0 73.6,417.8 78.3,416.7 82.9,417.4 87.6,414.4 92.2,413.2 96.8,412.0 101.5,412.0 106.1,409.7 110.8,407.4 115.4,406.2 120.0,405.1 124.7,406.2 129.3,403.9 132.8,399.3 136.3,401.6 139.8,399.3 143.2,400.4 146.7,399.3 150.2,402.8 153.7,401.6 158.3,400.4 160.6,398.1 164.1,400.4 167.6,403.9 172.2,405.1 175.7,401.6 179.2,402.8 182.7,406.2 186.2,410.9 189.6,409.7 193.1,408.6 195.0,410.9 197.1,408.7 199.3,411.6 201.4,416.6 203.6,420.9 205.0,419.4 206.4,423.7 207.9,431.6 209.3,435.9 211.4,438.0 213.6,433.0 216.4,428.7 219.3,422.3 222.1,421.6 225.0,418.0 227.9,415.4 230.7,415.4 232.9,413.7 235.0,410.1 237.9,408.3 240.0,407.3 241.4,410.9 243.6,415.4 245.7,414.4 247.9,412.3 250.0,409.4 252.1,406.6 255.0,405.9 257.9,403.0 260.0,408.7 261.4,418.0 262.9,429.4 264.3,439.4 265.7,445.9 267.1,445.1 268.6,432.3 269.3,406.6 270.0,389.4 271.4,383.7 272.9,381.6 274.3,392.3 275.7,405.1 277.1,413.0 278.6,412.3 280.7,410.1 282.9,408.7 285.0,408.0 286.4,412.3 288.6,419.4 291.4,428.0 294.3,423.7 296.4,419.4 298.6,423.7 301.4,430.1 303.6,425.1 305.7,419.4 307.9,417.3 310.7,415.1 312.9,415.9 315.0,418.0 317.1,419.4 320.0,420.1 322.9,423.7 325.0,428.7 327.1,427.3 330.0,428.7 332.9,430.9 335.7,431.6 338.6,429.4 341.4,426.6 344.3,425.9 347.1,423.7 350.0,420.1 342.0,426.8 344.7,425.7 347.4,423.4 349.4,420.7 351.4,420.1 353.4,419.4 355.4,423.4 357.4,426.8 360.1,429.5 362.1,430.5 364.1,429.7 366.1,426.8 368.1,423.8 370.1,423.4 372.1,425.4 374.1,424.4 376.1,423.4 378.8,424.8 380.8,425.4 382.8,423.8 384.8,426.1 386.9,428.4 389.5,426.8 391.5,426.5 393.5,428.4 396.2,426.1 398.9,426.1 401.6,427.4 404.3,428.1 406.3,426.1 408.3,422.1 410.9,420.1 413.6,417.4 414.7,415.4 417.4,407.2 420.1,408.6 421.5,418.1 422.9,426.2 424.9,428.2 426.9,420.8 429.6,424.2 432.4,426.2 434.4,424.2 437.1,426.2 440.5,427.6 444.6,428.2 448.0,427.3 450.0,428.2 452.0,431.0 455.4,431.4 458.1,429.6 460.8,425.5 464.2,423.8 467.6,423.2 471.7,420.1 474.4,416.7 477.1,414.7 479.2,416.7 481.2,424.9 483.2,426.9 485.9,431.6 487.0,433.0" fill="none" stroke="#000" stroke-width="1.2" stroke-linejoin="round" />
<polyline points="77.0,475.1 195.0,479.3 216.4,479.6 227.9,480.3 237.9,481.7 249.3,483.9 257.9,486.7 266.4,489.6 273.6,493.1 280.0,499.6 285.7,503.1 291.4,506.0 298.6,508.9 307.1,510.3 315.7,511.7 324.3,512.7 332.9,513.6 341.4,514.6 350.0,515.0 360.0,515.2 361.4,516.2 372.1,515.1 382.8,513.5 393.5,512.4 404.3,512.1 412.0,512.0 420.1,511.0 428.3,509.7 435.1,510.6 441.9,512.0 450.0,512.4 458.1,512.0 466.3,511.3 474.4,510.2 479.8,509.2 487.0,508.6" fill="none" stroke="#1010ff" stroke-width="1.4" stroke-linejoin="round" />
<polyline points="74.8,479.7 77.1,473.9 79.4,477.4 81.8,473.9 84.1,480.9 86.4,479.7 88.7,477.4 91.0,480.9 93.4,485.5 95.7,470.4 98.0,479.7 100.3,476.2 102.6,477.4 105.0,475.1 107.3,470.4 109.6,477.4 111.9,478.6 114.2,472.8 116.6,475.1 118.9,473.9 121.2,477.4 123.5,473.9 125.8,477.4 128.2,472.8 130.5,478.6 132.8,473.9 135.1,482.0 137.4,479.7 139.8,476.2 142.1,471.6 144.4,469.3 146.0,467.0 147.9,478.6 150.2,480.9 152.5,476.2 154.8,477.4 156.7,470.4 157.9,462.8 159.5,476.2 161.8,476.2 164.1,477.4 166.4,476.2 169.2,468.8 171.1,476.2 173.4,473.9 175.7,477.4 178.0,472.8 180.4,471.6 182.7,473.9 185.0,475.1 187.3,477.4 189.6,475.1 192.0,478.6 194.3,480.9 196.6,489.0 199.0,483.2 200.0,476.7 201.4,468.1 202.9,476.7 204.3,484.6 205.7,474.6 207.1,480.3 208.6,486.0 210.7,489.6 212.9,486.7 215.0,484.1 217.9,483.1 220.0,478.1 222.1,480.3 224.3,479.6 226.4,476.0 228.6,472.4 230.7,475.3 232.1,481.0 233.6,486.0 235.0,484.6 237.1,490.3 239.3,485.3 241.4,483.9 243.6,484.6 245.0,492.4 246.4,498.9 248.6,490.3 250.7,477.4 252.1,483.1 253.6,489.6 255.7,486.0 257.9,488.1 260.7,491.0 262.9,488.1 265.0,483.1 267.1,483.9 269.3,481.7 270.7,488.1 272.1,495.3 275.0,499.6 278.6,501.7 282.9,504.6 287.1,506.7 290.0,504.1 292.9,505.3 297.1,508.9 301.4,510.7 305.7,511.3 310.0,510.3 315.7,510.7 320.0,511.7 324.3,513.9 328.6,514.6 331.4,516.0 334.3,514.6 338.6,513.9 342.9,514.6 347.1,515.3 350.0,518.0 352.0,517.8 354.7,518.0 357.4,519.1 359.4,516.4 362.1,518.0 364.8,518.4 366.8,516.4 370.8,516.7 374.1,515.1 377.5,514.4 381.5,514.4 385.5,513.7 389.5,513.1 391.5,512.1 393.5,511.1 395.6,513.1 397.6,514.4 399.6,513.1 401.6,514.4 404.3,512.4 406.9,513.1 410.9,512.4 412.0,512.0 415.4,511.6 418.1,514.3 420.1,511.3 422.2,507.9 424.2,508.6 426.9,511.3 429.0,511.0 431.7,514.0 435.7,514.0 440.5,513.3 444.6,512.6 448.6,512.4 452.7,512.6 456.8,512.0 460.8,512.4 464.9,511.0 469.0,511.6 473.1,509.9 476.5,511.0 479.2,509.2 481.9,508.6 485.3,509.2 487.0,508.8" fill="none" stroke="#f01010" stroke-width="1.2" stroke-linejoin="round" />
<polyline points="69.0,482.0 71.3,483.2 73.6,485.5 76.0,479.7 78.3,475.1 80.6,479.7 82.9,483.2 86.4,484.4 89.9,482.7 93.4,483.7 96.8,482.7 101.5,482.0 106.1,481.6 110.8,482.7 115.4,482.0 120.0,481.3 124.7,482.0 129.3,479.7 132.8,477.4 136.3,479.7 139.8,478.6 143.2,479.7 146.7,478.6 149.0,487.8 151.4,487.8 154.8,486.7 158.3,478.6 161.8,483.2 166.4,483.2 171.1,482.0 175.7,480.4 179.2,483.2 182.7,486.7 187.3,490.2 190.8,493.6 194.3,499.4 196.6,504.1 198.6,498.1 200.7,496.7 202.9,494.6 205.0,492.4 206.4,487.4 207.9,493.9 209.3,503.9 211.4,506.7 213.6,503.9 215.7,493.9 217.9,490.3 220.0,491.7 222.9,493.1 225.7,491.7 228.6,487.4 231.4,488.9 234.3,489.6 237.1,491.0 240.0,493.9 242.1,492.4 244.3,491.0 245.7,498.1 247.1,505.3 249.3,507.4 250.7,499.6 252.1,493.9 254.3,491.0 256.4,492.4 258.6,493.9 260.7,493.1 262.9,492.4 265.0,498.1 267.1,506.7 269.3,501.7 271.4,503.9 273.6,507.4 275.7,509.6 278.6,509.6 281.4,511.7 284.3,513.9 287.1,514.6 289.3,513.9 291.4,516.0 294.3,513.9 296.4,511.7 298.6,512.4 301.4,513.9 304.3,513.1 307.1,511.7 311.4,508.1 315.7,509.6 320.0,510.3 322.9,512.4 325.0,515.3 327.1,516.0 330.0,513.9 332.9,514.6 337.1,513.9 341.4,512.4 345.7,511.0 350.0,512.4 353.4,514.4 357.4,514.4 361.4,513.5 365.4,513.1 368.8,510.0 370.8,509.1 373.5,510.4 378.8,510.8 384.2,510.8 388.2,510.4 390.2,511.7 392.2,512.4 394.9,510.8 398.9,509.5 402.9,509.1 406.9,507.3 410.3,506.4 413.6,505.7 414.7,504.5 417.4,504.2 419.5,506.5 421.5,509.9 424.2,512.0 426.9,511.3 431.0,511.0 435.1,511.6 439.1,512.0 443.2,509.9 446.6,508.8 450.0,509.2 453.4,509.2 456.8,507.5 460.2,506.5 463.6,506.9 467.6,505.6 471.7,504.5 475.1,504.2 477.8,505.6 479.8,507.9 482.6,508.8 487.0,508.8" fill="none" stroke="#000" stroke-width="1.2" stroke-linejoin="round" />
<polyline points="77.1,575.9 138.6,574.7 199.0,577.0 205.2,576.7 220.4,577.6 235.5,576.7 250.7,574.6 260.0,573.0 270.0,571.3 280.0,567.0 290.0,563.4 300.0,561.3 310.0,560.6 330.0,560.6 350.0,560.1 420.0,560.3 487.0,561.5" fill="none" stroke="#1010ff" stroke-width="1.4" stroke-linejoin="round" />
<polyline points="69.0,572.4 73.6,568.9 78.3,566.1 82.9,568.5 87.6,570.1 92.2,569.4 96.8,568.9 101.5,568.5 106.1,569.4 110.8,570.1 115.4,569.4 120.0,570.8 124.7,570.8 129.3,571.2 134.0,571.2 138.6,571.7 143.2,572.4 147.9,573.1 152.5,572.4 157.2,572.4 161.8,573.1 166.4,571.2 171.1,570.1 175.7,569.4 180.4,570.1 185.0,570.8 187.3,572.4 189.6,575.9 192.0,577.0 195.4,575.4 199.0,576.5 200.7,577.2 205.7,570.0 208.6,568.5 212.9,571.5 217.1,568.4 222.1,567.7 226.4,568.4 230.7,566.3 235.0,567.7 239.3,569.1 241.4,562.7 243.6,563.4 247.9,572.0 250.0,574.1 253.6,567.0 257.9,569.9 260.0,564.9 262.1,559.9 264.3,552.4 265.7,548.4 267.1,547.7 268.6,552.0 270.0,568.4 271.4,580.0 272.9,585.5 275.0,583.0 278.0,566.1 281.1,567.6 284.1,573.6 287.8,573.6 290.8,544.8 294.7,540.3 299.3,547.8 303.8,560.0 306.9,566.1 311.4,563.0 320.5,560.9 326.6,557.0 335.7,559.1 347.9,560.9 355.5,562.1 360.0,560.6 362.0,560.2 365.0,560.7 368.0,560.5 371.0,560.5 374.0,560.7 377.0,560.8 380.0,560.6 383.0,560.7 386.0,561.5 389.0,563.0 392.0,560.8 395.0,561.0 398.0,561.2 401.0,559.8 404.0,561.7 407.0,561.0 410.0,561.2 413.0,562.6 416.0,565.0 419.0,565.3 422.0,563.4 425.0,560.2 428.0,560.5 431.0,560.7 434.0,560.1 437.0,559.3 440.0,559.9 443.0,560.1 446.0,560.4 449.0,560.1 452.0,561.1 455.0,560.7 458.0,561.1 461.0,560.3 464.0,559.6 467.0,561.4 470.0,561.3 473.0,561.6 476.0,561.4 479.0,561.3 482.0,561.5 485.0,562.4" fill="none" stroke="#000" stroke-width="1.2" stroke-linejoin="round" />
<polyline points="72.5,570.1 76.0,567.8 78.3,566.1 80.6,567.8 82.9,572.4 85.2,574.7 87.6,571.2 91.0,572.4 93.4,574.7 95.7,572.4 99.2,570.1 102.6,567.8 106.1,570.8 108.4,572.4 111.9,571.7 115.4,570.1 117.7,568.9 121.2,570.8 124.7,572.4 128.2,573.6 131.6,571.7 135.1,573.1 138.6,573.6 142.1,577.0 144.4,574.7 147.9,577.0 151.4,574.7 154.8,573.1 158.3,573.6 161.8,578.2 164.1,575.9 167.6,572.4 171.1,568.9 174.6,569.4 176.9,570.8 180.4,570.1 183.8,572.4 186.2,573.6 188.5,575.9 192.0,579.4 195.4,577.0 197.1,574.1 199.3,576.3 200.7,577.7 202.9,572.7 205.7,569.1 208.6,567.0 210.7,568.4 212.9,574.1 215.0,569.1 217.1,563.4 219.3,570.6 222.1,564.9 224.3,569.1 226.4,567.0 228.6,565.6 230.7,562.7 232.9,566.3 235.0,567.7 237.1,566.3 239.3,568.4 241.4,559.9 243.6,560.6 245.7,568.4 247.9,569.9 250.0,570.6 252.1,565.6 253.6,562.0 255.7,564.1 257.9,568.4 260.0,562.7 262.1,553.4 264.3,549.9 265.7,547.0 267.1,532.7 268.6,541.3 270.0,568.4 271.4,581.3 272.9,587.0 275.0,584.1 278.0,565.0 281.1,566.0 284.1,575.0 287.8,575.0 290.8,543.0 294.7,537.8 299.3,545.0 303.8,560.0 306.9,567.0 311.4,562.0 320.5,560.0 326.6,556.0 335.7,558.5 347.9,560.5 355.5,562.0 360.0,560.0 362.0,559.8 365.0,560.4 368.0,561.4 371.0,561.8 374.0,560.3 377.0,561.6 380.0,560.3 383.0,560.8 386.0,561.5 389.0,560.6 392.0,562.5 395.0,559.1 398.0,560.7 401.0,560.3 404.0,560.8 407.0,561.0 410.0,559.9 413.0,564.1 416.0,564.8 419.0,566.2 422.0,563.9 425.0,559.7 428.0,561.3 431.0,560.7 434.0,560.4 437.0,561.2 440.0,561.8 443.0,561.7 446.0,561.0 449.0,560.5 452.0,560.4 455.0,561.4 458.0,560.9 461.0,560.5 464.0,560.4 467.0,560.3 470.0,560.5 473.0,562.0 476.0,561.9 479.0,562.1 482.0,562.0 485.0,561.5" fill="none" stroke="#f01010" stroke-width="1.2" stroke-linejoin="round" />
<polyline points="69.0,632.1 71.5,632.4 74.0,632.0 76.5,632.1 79.0,632.4 81.5,632.4 84.0,632.3 86.5,631.4 89.0,631.8 91.5,631.9 94.0,632.5 96.5,632.1 99.0,631.9 101.5,632.3 104.0,632.3 106.5,631.5 109.0,632.4 111.5,631.9 114.0,632.2 116.5,632.3 119.0,631.6 121.5,632.7 124.0,631.6 126.5,632.5 129.0,632.4 131.5,632.0 134.0,632.7 136.5,631.8 139.0,631.4 141.5,632.1 144.0,631.6 146.5,632.1 149.0,632.2 151.5,632.9 154.0,632.0 156.5,632.2 159.0,632.4 161.5,632.5 164.0,632.0 166.5,632.6 169.0,631.6 171.5,631.8 174.0,631.8 176.5,631.9 179.0,632.4 181.5,632.1 184.0,632.6 186.5,631.4 190.0,632.4 199.1,631.5 205.2,630.0 211.3,626.3 217.3,630.9 226.4,631.5 235.0,632.5 245.0,627.9 246.9,629.8 251.2,633.5 253.8,631.6 260.0,631.6 262.5,627.2 264.4,622.2 266.2,619.1 267.2,627.2 268.1,643.5 268.8,659.8 269.8,646.0 270.4,627.2 271.2,609.8 272.5,614.8 274.4,624.8 276.2,629.8 280.0,631.0 285.0,631.6 287.5,626.0 290.0,619.8 293.5,609.1 295.0,615.4 296.2,621.0 298.1,619.1 300.0,622.9 302.5,629.8 305.0,632.5 311.4,632.1 326.6,630.0 338.8,631.5 340.0,632.0 342.0,631.7 344.5,632.1 347.0,632.3 349.5,631.4 352.0,631.5 354.5,631.7 357.0,632.5 359.5,632.5 362.0,632.2 364.5,632.3 367.0,631.9 369.5,631.6 372.0,632.3 374.5,632.4 377.0,632.1 379.5,631.3 382.0,632.2 384.5,632.1 387.0,631.8 389.5,632.4 392.0,632.7 394.5,632.4 397.0,632.2 399.5,631.9 402.0,632.3 404.5,631.6 407.0,632.4 409.5,632.4 412.0,632.1 414.5,632.5 417.0,631.9 419.5,632.4 422.0,632.3 424.5,632.1 427.0,632.4 429.5,631.8 432.0,632.0 434.5,631.5 437.0,632.1 439.5,632.3 442.0,632.4 444.5,632.3 447.0,632.4 449.5,632.5 452.0,631.5 454.5,631.9 457.0,631.8 459.5,631.9 462.0,632.2 464.5,632.5 467.0,631.9 469.5,631.8 472.0,631.3 474.5,632.6 477.0,631.9 479.5,632.6 482.0,632.3 484.5,631.9 487.0,631.5" fill="none" stroke="#1010ff" stroke-width="1.2" stroke-linejoin="round" />
<polyline points="69.0,632.7 71.5,632.5 74.0,633.6 76.5,631.8 79.0,631.5 81.5,632.8 84.0,632.8 86.5,632.0 89.0,632.3 91.5,632.1 94.0,632.6 96.5,632.1 99.0,632.7 101.5,632.7 104.0,632.2 106.5,632.1 109.0,632.9 111.5,632.5 114.0,633.1 116.5,632.1 119.0,632.4 121.5,632.1 124.0,632.4 126.5,632.6 129.0,632.2 131.5,632.7 134.0,632.7 136.5,632.5 139.0,632.0 141.5,631.8 144.0,632.4 146.5,632.4 149.0,632.5 151.5,632.6 154.0,632.2 156.5,632.6 159.0,631.6 161.5,631.7 164.0,632.0 166.5,631.4 169.0,633.4 171.5,632.7 174.0,632.6 176.5,632.3 179.0,632.8 181.5,632.1 184.0,632.6 186.5,632.4 190.0,634.5 194.6,633.0 199.1,636.9 203.7,633.9 208.2,635.1 214.3,630.0 226.4,629.0 232.5,631.5 235.0,632.5 238.8,629.8 241.9,628.8 244.4,629.8 246.2,631.6 248.1,626.6 250.0,629.8 252.5,632.2 258.8,631.6 261.2,628.5 263.1,618.5 265.0,611.0 266.9,607.9 268.5,607.2 270.0,614.8 271.2,624.8 273.1,629.1 276.2,629.8 281.2,629.8 286.2,629.5 288.1,627.2 290.0,626.6 291.9,628.5 293.1,632.2 305.0,632.2 340.0,632.1 342.0,632.3 344.5,631.8 347.0,632.8 349.5,631.8 352.0,631.5 354.5,631.3 357.0,632.5 359.5,632.3 362.0,632.7 364.5,631.9 367.0,632.4 369.5,633.1 372.0,631.7 374.5,632.1 377.0,632.8 379.5,632.0 382.0,633.1 384.5,632.0 387.0,632.1 389.5,632.8 392.0,632.4 394.5,632.9 397.0,632.7 399.5,631.9 402.0,633.0 404.5,632.6 407.0,632.7 409.5,632.5 412.0,631.5 414.5,632.0 417.0,632.7 419.5,631.8 422.0,631.5 424.5,632.3 427.0,632.6 429.5,632.9 432.0,632.6 434.5,632.4 437.0,632.6 439.5,632.4 442.0,632.3 444.5,633.0 447.0,632.1 449.5,632.5 452.0,631.6 454.5,632.0 457.0,632.2 459.5,632.7 462.0,632.5 464.5,632.2 467.0,632.4 469.5,631.8 472.0,633.1 474.5,632.1 477.0,633.7 479.5,633.9 482.0,631.9 484.5,632.0 487.0,632.5" fill="none" stroke="#000" stroke-width="1.2" stroke-linejoin="round" />
<path d="M69.0,631.2V633.2 M70.7,630.7V633.7 M72.4,631.7V632.7 M74.1,631.8V632.6 M75.8,631.3V633.1 M77.5,631.9V632.5 M79.2,632.0V632.4 M80.9,630.1V634.3 M82.6,631.0V633.4 M84.3,632.0V632.4 M86.0,631.1V633.3 M87.7,631.8V632.6 M89.4,630.9V633.5 M91.1,631.2V633.2 M92.8,632.1V632.3 M94.5,631.7V632.7 M96.2,631.8V632.6 M97.9,632.1V632.3 M99.6,631.7V632.7 M101.3,631.4V633.0 M103.0,629.1V635.3 M104.7,631.9V632.5 M106.4,631.5V632.9 M108.1,631.8V632.6 M109.8,630.7V633.7 M111.5,631.6V632.8 M113.2,631.7V632.7 M114.9,631.3V633.1 M116.6,631.7V632.7 M118.3,631.7V632.7 M120.0,631.4V633.0 M121.7,631.6V632.8 M123.4,631.9V632.5 M125.1,632.0V632.4 M126.8,632.0V632.4 M128.5,630.9V633.5 M130.2,631.9V632.5 M131.9,631.8V632.6 M133.6,630.7V633.7 M135.3,631.9V632.5 M137.0,630.1V634.3 M138.7,632.1V632.3 M140.4,631.7V632.7 M142.1,631.7V632.7 M143.8,631.4V633.0 M145.5,631.3V633.1 M147.2,631.7V632.7 M148.9,630.5V633.9 M150.6,632.1V632.3 M152.3,631.4V633.0 M154.0,631.8V632.6 M155.7,630.1V634.3 M157.4,631.5V632.9 M159.1,631.7V632.7 M160.8,632.1V632.3 M162.5,631.9V632.5 M164.2,630.9V633.5 M165.9,630.7V633.7 M167.6,631.3V633.1 M169.3,631.2V633.2 M171.0,631.1V633.3 M172.7,631.0V633.4 M174.4,630.0V634.4 M176.1,631.2V633.2 M177.8,631.5V632.9 M179.5,631.1V633.3 M181.2,630.7V633.7 M182.9,631.1V633.3 M184.6,630.6V633.8 M186.3,631.4V633.0 M188.0,631.8V632.6 M189.7,631.9V632.5 M191.4,631.6V632.8 M193.1,632.1V632.3 M194.8,631.9V632.5 M196.5,631.3V633.1 M198.2,630.4V634.0 M199.9,631.6V632.8 M201.6,631.6V632.8 M203.3,631.4V633.0 M205.0,631.4V633.0 M206.7,631.1V633.3 M208.4,632.1V632.3 M210.1,631.7V632.7 M211.8,631.2V633.2 M213.5,631.2V633.2 M215.2,631.2V633.2 M216.9,631.4V633.0 M218.6,631.5V632.9 M220.3,632.1V632.3 M222.0,630.7V633.7 M223.7,632.1V632.3 M225.4,631.9V632.5 M227.1,631.4V633.0 M228.8,631.0V633.4 M230.5,631.2V633.2 M232.2,631.7V632.7 M233.9,631.8V632.6 M235.6,631.4V633.0 M237.3,631.9V632.5 M239.0,632.0V632.4 M240.7,632.0V632.4 M242.4,632.2V632.2 M244.1,632.1V632.3 M245.8,632.1V632.3 M247.5,631.7V632.7 M249.2,631.8V632.6 M250.9,630.7V633.7 M252.6,631.4V633.0 M254.3,632.1V632.3 M256.0,631.6V632.8 M257.7,631.1V633.3 M259.4,631.6V632.8 M261.1,631.8V632.6 M262.8,631.8V632.6 M264.5,632.1V632.3 M266.2,631.6V632.8 M267.9,631.0V633.4 M269.6,631.0V633.4 M271.3,631.7V632.7 M273.0,631.9V632.5 M274.7,632.0V632.4 M276.4,632.0V632.4 M278.1,631.5V632.9 M279.8,631.2V633.2 M281.5,631.4V633.0 M283.2,632.1V632.3 M284.9,632.1V632.3 M286.6,631.7V632.7 M288.3,631.7V632.7 M290.0,631.5V632.9 M291.7,631.4V633.0 M293.4,630.3V634.1 M295.1,631.1V633.3 M296.8,631.3V633.1 M298.5,631.8V632.6 M300.2,632.1V632.3 M301.9,632.1V632.3 M303.6,630.1V634.3 M305.3,632.2V632.2 M307.0,630.7V633.7 M308.7,631.1V633.3 M310.4,630.6V633.8 M312.1,631.0V633.4 M313.8,631.4V633.0 M315.5,632.0V632.4 M317.2,632.2V632.2 M318.9,631.7V632.7 M320.6,632.2V632.2 M322.3,630.2V634.2 M324.0,631.1V633.3 M325.7,632.0V632.4 M327.4,631.6V632.8 M329.1,631.4V633.0 M330.8,631.5V632.9 M332.5,631.7V632.7 M334.2,631.1V633.3 M335.9,630.8V633.6 M337.6,631.5V632.9 M339.3,632.2V632.2 M341.0,631.1V633.3 M342.7,631.1V633.3 M344.4,631.6V632.8 M346.1,631.3V633.1 M347.8,631.4V633.0 M349.5,631.9V632.5 M351.2,631.4V633.0 M352.9,631.0V633.4 M354.6,631.0V633.4 M356.3,630.2V634.2 M358.0,631.7V632.7 M359.7,630.8V633.6 M361.4,631.4V633.0 M363.1,631.2V633.2 M364.8,632.0V632.4 M366.5,632.2V632.2 M368.2,631.6V632.8 M369.9,630.5V633.9 M371.6,632.2V632.2 M373.3,631.4V633.0 M375.0,631.2V633.2 M376.7,631.2V633.2 M378.4,631.8V632.6 M380.1,632.1V632.3 M381.8,630.3V634.1 M383.5,631.4V633.0 M385.2,632.0V632.4 M386.9,630.4V634.0 M388.6,631.1V633.3 M390.3,631.0V633.4 M392.0,630.8V633.6 M393.7,631.2V633.2 M395.4,632.1V632.3 M397.1,631.3V633.1 M398.8,630.9V633.5 M400.5,631.0V633.4 M402.2,631.0V633.4 M403.9,631.1V633.3 M405.6,631.6V632.8 M407.3,631.7V632.7 M409.0,631.7V632.7 M410.7,631.6V632.8 M412.4,631.9V632.5 M414.1,631.4V633.0 M415.8,631.6V632.8 M417.5,632.0V632.4 M419.2,631.0V633.4 M420.9,631.9V632.5 M422.6,631.0V633.4 M424.3,631.5V632.9 M426.0,631.3V633.1 M427.7,632.0V632.4 M429.4,632.2V632.2 M431.1,632.1V632.3 M432.8,631.6V632.8 M434.5,631.4V633.0 M436.2,631.9V632.5 M437.9,630.6V633.8 M439.6,630.2V634.2 M441.3,631.7V632.7 M443.0,631.1V633.3 M444.7,632.0V632.4 M446.4,631.9V632.5 M448.1,632.1V632.3 M449.8,632.2V632.2 M451.5,631.0V633.4 M453.2,632.1V632.3 M454.9,630.6V633.8 M456.6,631.5V632.9 M458.3,631.0V633.4 M460.0,631.8V632.6 M461.7,631.5V632.9 M463.4,630.8V633.6 M465.1,632.2V632.2 M466.8,632.0V632.4 M468.5,630.7V633.7 M470.2,631.4V633.0 M471.9,631.3V633.1 M473.6,630.0V634.4 M475.3,631.6V632.8 M477.0,632.0V632.4 M478.7,632.0V632.4 M480.4,632.1V632.3 M482.1,631.4V633.0 M483.8,631.0V633.4 M485.5,631.6V632.8 M243.8,624.1V639.8 M245.0,622.2V642.9 M246.2,620.0V636.0 M247.5,624.8V636.0 M249.0,628.0V637.0 M260.6,626.0V638.0 M262.0,625.0V640.0 M263.2,627.0V637.0 M265.0,622.0V642.0 M266.2,614.8V637.2 M267.5,620.0V645.0 M270.6,601.0V663.5 M271.3,605.0V660.0 M273.1,618.5V647.2 M274.5,622.0V642.0 M276.0,625.0V639.0 M278.0,627.0V637.0 M281.9,626.0V637.2 M285.0,625.4V634.8 M287.0,628.0V636.0 M289.5,627.0V637.0 M409.5,631.6V632.8 M411.0,631.1V633.3 M412.5,628.8V635.6 M414.0,628.1V636.3 M415.5,628.0V636.4 M417.0,628.4V636.0 M418.5,628.1V636.3 M420.0,629.2V635.2 M421.5,629.3V635.1 M423.0,630.8V633.6 M424.5,630.7V633.7 M417.8,624.5V640.5 M479.6,627.0V637.8 M475.5,630.4V634.0 M477.0,629.5V634.9 M478.5,627.3V637.1 M480.0,629.2V635.2 M481.5,628.5V635.9 M483.0,629.5V634.9 M484.5,630.1V634.3 M486.0,631.3V633.1 M362.0,631.4V633.0 M363.5,630.8V633.6 M365.0,629.9V634.5 M366.5,630.6V633.8 M368.0,631.5V632.9 M346.0,631.1V633.3 M347.5,630.3V634.1 M349.0,630.1V634.3 M350.5,631.4V633.0 M250.0,631.3V633.1 M252.2,631.9V632.5 M254.4,629.6V634.8 M256.6,631.1V633.3 M258.8,629.8V634.6 M261.0,630.0V634.4 M263.2,630.4V634.0 M265.4,632.2V632.2 M267.6,631.7V632.7 M269.8,631.5V632.9 M272.0,631.7V632.7 M274.2,630.5V633.9 M276.4,629.8V634.6 M278.6,630.9V633.5 M280.8,630.5V633.9 M283.0,630.8V633.6 M285.2,632.1V632.3 M287.4,630.7V633.7 M289.6,631.3V633.1 M291.8,631.4V633.0" stroke="#ffc020" stroke-width="0.9" fill="none"/>
<polyline points="69.0,633.0 71.5,632.7 74.0,632.6 76.5,632.4 79.0,632.8 81.5,632.6 84.0,632.4 86.5,632.5 89.0,632.0 91.5,632.7 94.0,632.6 96.5,631.8 99.0,632.8 101.5,632.6 104.0,632.6 106.5,632.4 109.0,632.2 111.5,632.8 114.0,632.6 116.5,632.6 119.0,632.4 121.5,632.7 124.0,632.5 126.5,632.8 129.0,632.2 131.5,632.7 134.0,631.9 136.5,631.7 139.0,632.5 141.5,632.3 144.0,632.4 146.5,632.6 149.0,631.9 151.5,632.3 154.0,632.4 156.5,632.8 159.0,632.4 161.5,632.5 164.0,632.0 166.5,632.9 169.0,632.4 171.5,632.7 174.0,632.4 176.5,632.5 179.0,632.3 181.5,632.5 184.0,632.6 186.5,632.5 189.0,632.3 191.5,632.4 194.0,632.7 196.5,631.9 199.0,632.5 201.5,632.1 204.0,632.2 206.5,632.1 209.0,632.3 211.5,632.9 214.0,632.3 216.5,632.6 219.0,632.1 221.5,632.1 224.0,632.7 226.5,632.6 229.0,632.5 231.5,632.3 234.0,632.7 236.5,632.5 239.0,632.3 241.5,632.2 244.0,632.5 246.5,632.4 249.0,632.5 251.5,632.8 254.0,632.1 256.5,632.5 259.0,632.3 261.5,631.8 264.0,633.9 266.5,631.6 269.0,622.8 271.5,632.0 274.0,632.3 276.5,632.4 279.0,632.6 281.5,632.2 284.0,632.5 286.5,632.9 289.0,635.6 291.5,632.6 294.0,631.9 296.5,632.1 299.0,632.3 301.5,631.8 304.0,631.9 306.5,632.5 309.0,632.5 311.5,632.8 314.0,632.4 316.5,632.3 319.0,632.1 321.5,632.3 324.0,632.6 326.5,633.0 329.0,632.8 331.5,631.9 334.0,633.0 336.5,632.2 339.0,632.4 341.5,633.0 344.0,632.3 346.5,631.7 349.0,632.6 351.5,632.3 354.0,632.7 356.5,632.3 359.0,632.5 361.5,632.3 364.0,632.8 366.5,632.8 369.0,632.0 371.5,632.3 374.0,631.9 376.5,632.1 379.0,632.9 381.5,632.5 384.0,632.9 386.5,632.9 389.0,632.5 391.5,631.9 394.0,632.5 396.5,632.1 399.0,632.4 401.5,632.1 404.0,632.4 406.5,632.6 409.0,632.2 411.5,632.0 414.0,632.7 416.5,632.0 419.0,632.4 421.5,632.3 424.0,632.6 426.5,632.4 429.0,632.2 431.5,632.3 434.0,632.0 436.5,632.2 439.0,632.6 441.5,632.5 444.0,632.3 446.5,632.6 449.0,632.5 451.5,632.0 454.0,632.4 456.5,632.4 459.0,632.7 461.5,633.0 464.0,631.9 466.5,632.4 469.0,632.1 471.5,632.4 474.0,632.4 476.5,632.5 479.0,632.4 481.5,631.7 484.0,632.6 486.5,632.3" fill="none" stroke="#f01010" stroke-width="1.2" stroke-linejoin="round" />
<polyline points="69.5,726.0 71.6,722.9 73.7,714.3 75.9,721.4 78.0,720.7 80.6,715.0 82.7,727.1 84.9,715.0 86.9,717.9 89.1,724.3 91.6,718.6 94.4,715.7 96.6,720.7 98.7,725.7 100.9,717.1 103.4,708.6 105.9,719.3 108.0,720.0 110.1,717.9 113.0,716.4 115.1,717.9 117.3,724.3 119.1,713.6 121.6,722.9 124.0,720.0 126.3,717.1 128.0,721.4 130.9,713.6 133.7,714.0 135.9,715.0 137.7,727.1 140.1,702.9 142.3,714.3 144.9,725.0 146.7,712.9 149.0,712.6 151.4,722.1 153.6,710.0 156.1,717.1 158.6,718.3 160.7,717.1 162.9,711.4 165.0,713.6 167.1,721.1 169.3,720.0 172.1,718.3 174.3,719.3 176.4,715.7 178.6,713.1 181.0,726.4 182.9,717.9 185.0,716.9 187.6,706.4 190.0,716.4 192.1,720.0 194.7,708.3 196.7,720.7 199.0,720.0 201.1,721.1 203.3,715.0 205.7,714.3 208.3,725.0 210.4,711.1 212.9,710.0 215.0,702.9 217.1,705.0 219.3,695.4 221.4,708.6 222.6,714.0 224.1,720.1 226.3,708.7 228.4,710.1 230.9,716.6 233.1,709.4 235.1,712.3 237.7,708.7 240.3,723.0 242.7,695.9 244.9,690.6 247.0,708.0 249.1,728.0 251.3,703.0 253.7,698.3 256.0,708.7 258.4,723.0 260.6,719.4 263.4,718.7 265.6,701.6 267.4,707.3 269.9,685.1 272.0,714.9 274.9,714.9 277.0,715.9 279.1,723.0 280.9,724.4 283.1,710.1 285.6,723.0 288.0,725.9 290.3,718.0 292.7,682.3 294.9,696.6 297.7,705.1 300.0,713.6 302.1,716.9 305.0,717.9 308.6,722.6 310.7,720.7 312.9,723.1 315.7,717.1 317.9,713.6 320.0,714.0 322.1,716.0 324.3,710.0 326.9,703.6 329.3,709.3 331.4,717.9 334.3,718.6 336.9,716.9 338.3,713.1 340.7,721.4 342.6,711.4 345.0,715.0 347.4,707.4 349.7,714.3 352.6,718.3 355.7,717.4 358.6,716.0 360.7,697.9 363.1,695.4 365.4,713.6 367.9,709.3 370.0,726.4 372.1,720.0 374.6,715.4 377.1,718.9 379.1,720.7 381.3,717.9 383.9,715.0 386.3,712.9 388.4,710.0 390.6,719.3 393.0,704.6 395.3,707.9 397.7,720.7 399.9,727.1 402.0,722.9 404.6,715.4 407.0,717.1 409.1,721.4 411.3,727.1 413.4,714.3 415.6,713.6 418.1,725.7 420.6,712.9 422.7,706.9 425.3,708.3 427.7,712.9 429.9,717.4 432.7,717.9 434.9,719.3 436.3,720.7 438.7,712.6 440.6,720.7 441.3,717.5 443.1,712.6 444.9,714.8 447.6,705.0 449.8,713.0 452.5,716.2 454.7,713.9 456.5,707.7 458.8,714.8 461.0,715.3 463.4,725.1 465.4,717.5 467.7,717.5 470.4,718.8 472.6,717.1 474.8,711.3 477.1,714.4 479.3,710.8 481.5,710.8 483.8,721.5 484.2,722.0" fill="none" stroke="#000" stroke-width="1.2" stroke-linejoin="round" />
<line x1="210.4" y1="6.67" x2="210.4" y2="740.4" stroke="#e6e600" stroke-width="1.6" stroke-dasharray="12,12.23"/>
<line x1="282.8" y1="6.67" x2="282.8" y2="740.4" stroke="#e830e8" stroke-width="1.6" stroke-dasharray="12,12.23"/>
<line x1="327.1" y1="6.67" x2="327.1" y2="740.4" stroke="#e6e600" stroke-width="1.6" stroke-dasharray="12,12.23"/>
<rect x="0" y="0" width="560" height="11.8" fill="#fff"/>
<rect x="69.2" y="12.3" width="418.0" height="71.1" fill="none" stroke="#858585" stroke-width="0.9"/>
<path d="M84.5,12.3v2.5M84.5,83.39999999999999v-2.5M99.5,12.3v2.5M99.5,83.39999999999999v-2.5M114.5,12.3v2.5M114.5,83.39999999999999v-2.5M130.5,12.3v2.5M130.5,83.39999999999999v-2.5M145.5,12.3v5M145.5,83.39999999999999v-5M160.5,12.3v2.5M160.5,83.39999999999999v-2.5M175.5,12.3v2.5M175.5,83.39999999999999v-2.5M190.5,12.3v2.5M190.5,83.39999999999999v-2.5M206.5,12.3v2.5M206.5,83.39999999999999v-2.5M221.5,12.3v2.5M221.5,83.39999999999999v-2.5M236.5,12.3v2.5M236.5,83.39999999999999v-2.5M251.5,12.3v2.5M251.5,83.39999999999999v-2.5M266.5,12.3v2.5M266.5,83.39999999999999v-2.5M282.5,12.3v2.5M282.5,83.39999999999999v-2.5M297.5,12.3v5M297.5,83.39999999999999v-5M312.5,12.3v2.5M312.5,83.39999999999999v-2.5M327.5,12.3v2.5M327.5,83.39999999999999v-2.5M342.5,12.3v2.5M342.5,83.39999999999999v-2.5M358.5,12.3v2.5M358.5,83.39999999999999v-2.5M373.5,12.3v2.5M373.5,83.39999999999999v-2.5M388.5,12.3v2.5M388.5,83.39999999999999v-2.5M403.5,12.3v2.5M403.5,83.39999999999999v-2.5M418.5,12.3v2.5M418.5,83.39999999999999v-2.5M434.5,12.3v2.5M434.5,83.39999999999999v-2.5M449.5,12.3v5M449.5,83.39999999999999v-5M464.5,12.3v2.5M464.5,83.39999999999999v-2.5M479.5,12.3v2.5M479.5,83.39999999999999v-2.5" stroke="#858585" stroke-width="1" fill="none"/>
<rect x="69.2" y="85.3" width="418.0" height="71.1" fill="none" stroke="#858585" stroke-width="0.9"/>
<path d="M84.5,85.3v2.5M84.5,156.39999999999998v-2.5M99.5,85.3v2.5M99.5,156.39999999999998v-2.5M114.5,85.3v2.5M114.5,156.39999999999998v-2.5M130.5,85.3v2.5M130.5,156.39999999999998v-2.5M145.5,85.3v5M145.5,156.39999999999998v-5M160.5,85.3v2.5M160.5,156.39999999999998v-2.5M175.5,85.3v2.5M175.5,156.39999999999998v-2.5M190.5,85.3v2.5M190.5,156.39999999999998v-2.5M206.5,85.3v2.5M206.5,156.39999999999998v-2.5M221.5,85.3v2.5M221.5,156.39999999999998v-2.5M236.5,85.3v2.5M236.5,156.39999999999998v-2.5M251.5,85.3v2.5M251.5,156.39999999999998v-2.5M266.5,85.3v2.5M266.5,156.39999999999998v-2.5M282.5,85.3v2.5M282.5,156.39999999999998v-2.5M297.5,85.3v5M297.5,156.39999999999998v-5M312.5,85.3v2.5M312.5,156.39999999999998v-2.5M327.5,85.3v2.5M327.5,156.39999999999998v-2.5M342.5,85.3v2.5M342.5,156.39999999999998v-2.5M358.5,85.3v2.5M358.5,156.39999999999998v-2.5M373.5,85.3v2.5M373.5,156.39999999999998v-2.5M388.5,85.3v2.5M388.5,156.39999999999998v-2.5M403.5,85.3v2.5M403.5,156.39999999999998v-2.5M418.5,85.3v2.5M418.5,156.39999999999998v-2.5M434.5,85.3v2.5M434.5,156.39999999999998v-2.5M449.5,85.3v5M449.5,156.39999999999998v-5M464.5,85.3v2.5M464.5,156.39999999999998v-2.5M479.5,85.3v2.5M479.5,156.39999999999998v-2.5" stroke="#858585" stroke-width="1" fill="none"/>
<rect x="69.2" y="158.3" width="418.0" height="71.1" fill="none" stroke="#858585" stroke-width="0.9"/>
<path d="M84.5,158.3v2.5M84.5,229.4v-2.5M99.5,158.3v2.5M99.5,229.4v-2.5M114.5,158.3v2.5M114.5,229.4v-2.5M130.5,158.3v2.5M130.5,229.4v-2.5M145.5,158.3v5M145.5,229.4v-5M160.5,158.3v2.5M160.5,229.4v-2.5M175.5,158.3v2.5M175.5,229.4v-2.5M190.5,158.3v2.5M190.5,229.4v-2.5M206.5,158.3v2.5M206.5,229.4v-2.5M221.5,158.3v2.5M221.5,229.4v-2.5M236.5,158.3v2.5M236.5,229.4v-2.5M251.5,158.3v2.5M251.5,229.4v-2.5M266.5,158.3v2.5M266.5,229.4v-2.5M282.5,158.3v2.5M282.5,229.4v-2.5M297.5,158.3v5M297.5,229.4v-5M312.5,158.3v2.5M312.5,229.4v-2.5M327.5,158.3v2.5M327.5,229.4v-2.5M342.5,158.3v2.5M342.5,229.4v-2.5M358.5,158.3v2.5M358.5,229.4v-2.5M373.5,158.3v2.5M373.5,229.4v-2.5M388.5,158.3v2.5M388.5,229.4v-2.5M403.5,158.3v2.5M403.5,229.4v-2.5M418.5,158.3v2.5M418.5,229.4v-2.5M434.5,158.3v2.5M434.5,229.4v-2.5M449.5,158.3v5M449.5,229.4v-5M464.5,158.3v2.5M464.5,229.4v-2.5M479.5,158.3v2.5M479.5,229.4v-2.5" stroke="#858585" stroke-width="1" fill="none"/>
<rect x="69.2" y="231.3" width="418.0" height="71.1" fill="none" stroke="#858585" stroke-width="0.9"/>
<path d="M84.5,231.3v2.5M84.5,302.4v-2.5M99.5,231.3v2.5M99.5,302.4v-2.5M114.5,231.3v2.5M114.5,302.4v-2.5M130.5,231.3v2.5M130.5,302.4v-2.5M145.5,231.3v5M145.5,302.4v-5M160.5,231.3v2.5M160.5,302.4v-2.5M175.5,231.3v2.5M175.5,302.4v-2.5M190.5,231.3v2.5M190.5,302.4v-2.5M206.5,231.3v2.5M206.5,302.4v-2.5M221.5,231.3v2.5M221.5,302.4v-2.5M236.5,231.3v2.5M236.5,302.4v-2.5M251.5,231.3v2.5M251.5,302.4v-2.5M266.5,231.3v2.5M266.5,302.4v-2.5M282.5,231.3v2.5M282.5,302.4v-2.5M297.5,231.3v5M297.5,302.4v-5M312.5,231.3v2.5M312.5,302.4v-2.5M327.5,231.3v2.5M327.5,302.4v-2.5M342.5,231.3v2.5M342.5,302.4v-2.5M358.5,231.3v2.5M358.5,302.4v-2.5M373.5,231.3v2.5M373.5,302.4v-2.5M388.5,231.3v2.5M388.5,302.4v-2.5M403.5,231.3v2.5M403.5,302.4v-2.5M418.5,231.3v2.5M418.5,302.4v-2.5M434.5,231.3v2.5M434.5,302.4v-2.5M449.5,231.3v5M449.5,302.4v-5M464.5,231.3v2.5M464.5,302.4v-2.5M479.5,231.3v2.5M479.5,302.4v-2.5" stroke="#858585" stroke-width="1" fill="none"/>
<rect x="69.2" y="304.3" width="418.0" height="71.1" fill="none" stroke="#858585" stroke-width="0.9"/>
<path d="M84.5,304.3v2.5M84.5,375.4v-2.5M99.5,304.3v2.5M99.5,375.4v-2.5M114.5,304.3v2.5M114.5,375.4v-2.5M130.5,304.3v2.5M130.5,375.4v-2.5M145.5,304.3v5M145.5,375.4v-5M160.5,304.3v2.5M160.5,375.4v-2.5M175.5,304.3v2.5M175.5,375.4v-2.5M190.5,304.3v2.5M190.5,375.4v-2.5M206.5,304.3v2.5M206.5,375.4v-2.5M221.5,304.3v2.5M221.5,375.4v-2.5M236.5,304.3v2.5M236.5,375.4v-2.5M251.5,304.3v2.5M251.5,375.4v-2.5M266.5,304.3v2.5M266.5,375.4v-2.5M282.5,304.3v2.5M282.5,375.4v-2.5M297.5,304.3v5M297.5,375.4v-5M312.5,304.3v2.5M312.5,375.4v-2.5M327.5,304.3v2.5M327.5,375.4v-2.5M342.5,304.3v2.5M342.5,375.4v-2.5M358.5,304.3v2.5M358.5,375.4v-2.5M373.5,304.3v2.5M373.5,375.4v-2.5M388.5,304.3v2.5M388.5,375.4v-2.5M403.5,304.3v2.5M403.5,375.4v-2.5M418.5,304.3v2.5M418.5,375.4v-2.5M434.5,304.3v2.5M434.5,375.4v-2.5M449.5,304.3v5M449.5,375.4v-5M464.5,304.3v2.5M464.5,375.4v-2.5M479.5,304.3v2.5M479.5,375.4v-2.5" stroke="#858585" stroke-width="1" fill="none"/>
<rect x="69.2" y="377.3" width="418.0" height="71.1" fill="none" stroke="#858585" stroke-width="0.9"/>
<path d="M84.5,377.3v2.5M84.5,448.4v-2.5M99.5,377.3v2.5M99.5,448.4v-2.5M114.5,377.3v2.5M114.5,448.4v-2.5M130.5,377.3v2.5M130.5,448.4v-2.5M145.5,377.3v5M145.5,448.4v-5M160.5,377.3v2.5M160.5,448.4v-2.5M175.5,377.3v2.5M175.5,448.4v-2.5M190.5,377.3v2.5M190.5,448.4v-2.5M206.5,377.3v2.5M206.5,448.4v-2.5M221.5,377.3v2.5M221.5,448.4v-2.5M236.5,377.3v2.5M236.5,448.4v-2.5M251.5,377.3v2.5M251.5,448.4v-2.5M266.5,377.3v2.5M266.5,448.4v-2.5M282.5,377.3v2.5M282.5,448.4v-2.5M297.5,377.3v5M297.5,448.4v-5M312.5,377.3v2.5M312.5,448.4v-2.5M327.5,377.3v2.5M327.5,448.4v-2.5M342.5,377.3v2.5M342.5,448.4v-2.5M358.5,377.3v2.5M358.5,448.4v-2.5M373.5,377.3v2.5M373.5,448.4v-2.5M388.5,377.3v2.5M388.5,448.4v-2.5M403.5,377.3v2.5M403.5,448.4v-2.5M418.5,377.3v2.5M418.5,448.4v-2.5M434.5,377.3v2.5M434.5,448.4v-2.5M449.5,377.3v5M449.5,448.4v-5M464.5,377.3v2.5M464.5,448.4v-2.5M479.5,377.3v2.5M479.5,448.4v-2.5" stroke="#858585" stroke-width="1" fill="none"/>
<rect x="69.2" y="450.3" width="418.0" height="71.1" fill="none" stroke="#858585" stroke-width="0.9"/>
<path d="M84.5,450.3v2.5M84.5,521.4v-2.5M99.5,450.3v2.5M99.5,521.4v-2.5M114.5,450.3v2.5M114.5,521.4v-2.5M130.5,450.3v2.5M130.5,521.4v-2.5M145.5,450.3v5M145.5,521.4v-5M160.5,450.3v2.5M160.5,521.4v-2.5M175.5,450.3v2.5M175.5,521.4v-2.5M190.5,450.3v2.5M190.5,521.4v-2.5M206.5,450.3v2.5M206.5,521.4v-2.5M221.5,450.3v2.5M221.5,521.4v-2.5M236.5,450.3v2.5M236.5,521.4v-2.5M251.5,450.3v2.5M251.5,521.4v-2.5M266.5,450.3v2.5M266.5,521.4v-2.5M282.5,450.3v2.5M282.5,521.4v-2.5M297.5,450.3v5M297.5,521.4v-5M312.5,450.3v2.5M312.5,521.4v-2.5M327.5,450.3v2.5M327.5,521.4v-2.5M342.5,450.3v2.5M342.5,521.4v-2.5M358.5,450.3v2.5M358.5,521.4v-2.5M373.5,450.3v2.5M373.5,521.4v-2.5M388.5,450.3v2.5M388.5,521.4v-2.5M403.5,450.3v2.5M403.5,521.4v-2.5M418.5,450.3v2.5M418.5,521.4v-2.5M434.5,450.3v2.5M434.5,521.4v-2.5M449.5,450.3v5M449.5,521.4v-5M464.5,450.3v2.5M464.5,521.4v-2.5M479.5,450.3v2.5M479.5,521.4v-2.5" stroke="#858585" stroke-width="1" fill="none"/>
<rect x="69.2" y="523.3" width="418.0" height="71.1" fill="none" stroke="#858585" stroke-width="0.9"/>
<path d="M84.5,523.3v2.5M84.5,594.4v-2.5M99.5,523.3v2.5M99.5,594.4v-2.5M114.5,523.3v2.5M114.5,594.4v-2.5M130.5,523.3v2.5M130.5,594.4v-2.5M145.5,523.3v5M145.5,594.4v-5M160.5,523.3v2.5M160.5,594.4v-2.5M175.5,523.3v2.5M175.5,594.4v-2.5M190.5,523.3v2.5M190.5,594.4v-2.5M206.5,523.3v2.5M206.5,594.4v-2.5M221.5,523.3v2.5M221.5,594.4v-2.5M236.5,523.3v2.5M236.5,594.4v-2.5M251.5,523.3v2.5M251.5,594.4v-2.5M266.5,523.3v2.5M266.5,594.4v-2.5M282.5,523.3v2.5M282.5,594.4v-2.5M297.5,523.3v5M297.5,594.4v-5M312.5,523.3v2.5M312.5,594.4v-2.5M327.5,523.3v2.5M327.5,594.4v-2.5M342.5,523.3v2.5M342.5,594.4v-2.5M358.5,523.3v2.5M358.5,594.4v-2.5M373.5,523.3v2.5M373.5,594.4v-2.5M388.5,523.3v2.5M388.5,594.4v-2.5M403.5,523.3v2.5M403.5,594.4v-2.5M418.5,523.3v2.5M418.5,594.4v-2.5M434.5,523.3v2.5M434.5,594.4v-2.5M449.5,523.3v5M449.5,594.4v-5M464.5,523.3v2.5M464.5,594.4v-2.5M479.5,523.3v2.5M479.5,594.4v-2.5" stroke="#858585" stroke-width="1" fill="none"/>
<rect x="69.2" y="596.3" width="418.0" height="71.1" fill="none" stroke="#858585" stroke-width="0.9"/>
<path d="M84.5,596.3v2.5M84.5,667.4v-2.5M99.5,596.3v2.5M99.5,667.4v-2.5M114.5,596.3v2.5M114.5,667.4v-2.5M130.5,596.3v2.5M130.5,667.4v-2.5M145.5,596.3v5M145.5,667.4v-5M160.5,596.3v2.5M160.5,667.4v-2.5M175.5,596.3v2.5M175.5,667.4v-2.5M190.5,596.3v2.5M190.5,667.4v-2.5M206.5,596.3v2.5M206.5,667.4v-2.5M221.5,596.3v2.5M221.5,667.4v-2.5M236.5,596.3v2.5M236.5,667.4v-2.5M251.5,596.3v2.5M251.5,667.4v-2.5M266.5,596.3v2.5M266.5,667.4v-2.5M282.5,596.3v2.5M282.5,667.4v-2.5M297.5,596.3v5M297.5,667.4v-5M312.5,596.3v2.5M312.5,667.4v-2.5M327.5,596.3v2.5M327.5,667.4v-2.5M342.5,596.3v2.5M342.5,667.4v-2.5M358.5,596.3v2.5M358.5,667.4v-2.5M373.5,596.3v2.5M373.5,667.4v-2.5M388.5,596.3v2.5M388.5,667.4v-2.5M403.5,596.3v2.5M403.5,667.4v-2.5M418.5,596.3v2.5M418.5,667.4v-2.5M434.5,596.3v2.5M434.5,667.4v-2.5M449.5,596.3v5M449.5,667.4v-5M464.5,596.3v2.5M464.5,667.4v-2.5M479.5,596.3v2.5M479.5,667.4v-2.5" stroke="#858585" stroke-width="1" fill="none"/>
<rect x="69.2" y="669.3" width="418.0" height="71.1" fill="none" stroke="#858585" stroke-width="0.9"/>
<path d="M84.5,669.3v2.5M84.5,740.4v-2.5M99.5,669.3v2.5M99.5,740.4v-2.5M114.5,669.3v2.5M114.5,740.4v-2.5M130.5,669.3v2.5M130.5,740.4v-2.5M145.5,669.3v5M145.5,740.4v-5M160.5,669.3v2.5M160.5,740.4v-2.5M175.5,669.3v2.5M175.5,740.4v-2.5M190.5,669.3v2.5M190.5,740.4v-2.5M206.5,669.3v2.5M206.5,740.4v-2.5M221.5,669.3v2.5M221.5,740.4v-2.5M236.5,669.3v2.5M236.5,740.4v-2.5M251.5,669.3v2.5M251.5,740.4v-2.5M266.5,669.3v2.5M266.5,740.4v-2.5M282.5,669.3v2.5M282.5,740.4v-2.5M297.5,669.3v5M297.5,740.4v-5M312.5,669.3v2.5M312.5,740.4v-2.5M327.5,669.3v2.5M327.5,740.4v-2.5M342.5,669.3v2.5M342.5,740.4v-2.5M358.5,669.3v2.5M358.5,740.4v-2.5M373.5,669.3v2.5M373.5,740.4v-2.5M388.5,669.3v2.5M388.5,740.4v-2.5M403.5,669.3v2.5M403.5,740.4v-2.5M418.5,669.3v2.5M418.5,740.4v-2.5M434.5,669.3v2.5M434.5,740.4v-2.5M449.5,669.3v5M449.5,740.4v-5M464.5,669.3v2.5M464.5,740.4v-2.5M479.5,669.3v2.5M479.5,740.4v-2.5" stroke="#858585" stroke-width="1" fill="none"/>
<path d="M69.2,30.2h7M487.2,30.2h-7M69.2,48.1h7M487.2,48.1h-7M69.2,66.0h7M487.2,66.0h-7M69.2,48.1h3M487.2,48.1h-3M69.2,43.6h3M487.2,43.6h-3M69.2,39.2h3M487.2,39.2h-3M69.2,34.7h3M487.2,34.7h-3M69.2,30.3h3M487.2,30.3h-3M69.2,25.8h3M487.2,25.8h-3M69.2,21.4h3M487.2,21.4h-3M69.2,16.9h3M487.2,16.9h-3M69.2,48.1h3M487.2,48.1h-3M69.2,52.6h3M487.2,52.6h-3M69.2,57.0h3M487.2,57.0h-3M69.2,61.5h3M487.2,61.5h-3M69.2,65.9h3M487.2,65.9h-3M69.2,70.4h3M487.2,70.4h-3M69.2,74.8h3M487.2,74.8h-3M69.2,79.3h3M487.2,79.3h-3" stroke="#858585" stroke-width="0.8" fill="none"/>
<path d="M69.2,100.3h7M487.2,100.3h-7M69.2,114.4h7M487.2,114.4h-7M69.2,128.5h7M487.2,128.5h-7M69.2,142.6h7M487.2,142.6h-7" stroke="#858585" stroke-width="0.8" fill="none"/>
<path d="M69.2,173.5h7M487.2,173.5h-7M69.2,187.1h7M487.2,187.1h-7M69.2,200.7h7M487.2,200.7h-7M69.2,214.3h7M487.2,214.3h-7" stroke="#858585" stroke-width="0.8" fill="none"/>
<path d="M69.2,246.0h7M487.2,246.0h-7M69.2,260.2h7M487.2,260.2h-7M69.2,274.4h7M487.2,274.4h-7M69.2,288.6h7M487.2,288.6h-7M69.2,274.4h3M487.2,274.4h-3M69.2,270.8h3M487.2,270.8h-3M69.2,267.3h3M487.2,267.3h-3M69.2,263.7h3M487.2,263.7h-3M69.2,260.2h3M487.2,260.2h-3M69.2,256.6h3M487.2,256.6h-3M69.2,253.1h3M487.2,253.1h-3M69.2,249.5h3M487.2,249.5h-3M69.2,246.0h3M487.2,246.0h-3M69.2,242.4h3M487.2,242.4h-3M69.2,238.9h3M487.2,238.9h-3M69.2,235.3h3M487.2,235.3h-3M69.2,274.4h3M487.2,274.4h-3M69.2,277.9h3M487.2,277.9h-3M69.2,281.5h3M487.2,281.5h-3M69.2,285.1h3M487.2,285.1h-3M69.2,288.6h3M487.2,288.6h-3M69.2,292.2h3M487.2,292.2h-3M69.2,295.7h3M487.2,295.7h-3M69.2,299.3h3M487.2,299.3h-3" stroke="#858585" stroke-width="0.8" fill="none"/>
<path d="M69.2,320.2h7M487.2,320.2h-7M69.2,333.6h7M487.2,333.6h-7M69.2,347.0h7M487.2,347.0h-7M69.2,360.4h7M487.2,360.4h-7" stroke="#858585" stroke-width="0.8" fill="none"/>
<path d="M69.2,392.5h7M487.2,392.5h-7M69.2,406.5h7M487.2,406.5h-7M69.2,420.4h7M487.2,420.4h-7M69.2,434.4h7M487.2,434.4h-7" stroke="#858585" stroke-width="0.8" fill="none"/>
<path d="M69.2,465.5h7M487.2,465.5h-7M69.2,479.4h7M487.2,479.4h-7M69.2,493.4h7M487.2,493.4h-7M69.2,507.4h7M487.2,507.4h-7" stroke="#858585" stroke-width="0.8" fill="none"/>
<path d="M69.2,532.0h7M487.2,532.0h-7M69.2,541.0h7M487.2,541.0h-7M69.2,549.9h7M487.2,549.9h-7M69.2,558.9h7M487.2,558.9h-7M69.2,567.8h7M487.2,567.8h-7M69.2,576.8h7M487.2,576.8h-7M69.2,585.8h7M487.2,585.8h-7M69.2,567.8h3M487.2,567.8h-3M69.2,565.6h3M487.2,565.6h-3M69.2,563.3h3M487.2,563.3h-3M69.2,561.1h3M487.2,561.1h-3M69.2,558.8h3M487.2,558.8h-3M69.2,556.6h3M487.2,556.6h-3M69.2,554.4h3M487.2,554.4h-3M69.2,552.1h3M487.2,552.1h-3M69.2,549.9h3M487.2,549.9h-3M69.2,547.6h3M487.2,547.6h-3M69.2,545.4h3M487.2,545.4h-3M69.2,543.2h3M487.2,543.2h-3M69.2,540.9h3M487.2,540.9h-3M69.2,538.7h3M487.2,538.7h-3M69.2,536.4h3M487.2,536.4h-3M69.2,534.2h3M487.2,534.2h-3M69.2,532.0h3M487.2,532.0h-3M69.2,529.7h3M487.2,529.7h-3M69.2,527.5h3M487.2,527.5h-3M69.2,525.2h3M487.2,525.2h-3M69.2,567.8h3M487.2,567.8h-3M69.2,570.0h3M487.2,570.0h-3M69.2,572.3h3M487.2,572.3h-3M69.2,574.5h3M487.2,574.5h-3M69.2,576.8h3M487.2,576.8h-3M69.2,579.0h3M487.2,579.0h-3M69.2,581.2h3M487.2,581.2h-3M69.2,583.5h3M487.2,583.5h-3M69.2,585.7h3M487.2,585.7h-3M69.2,588.0h3M487.2,588.0h-3M69.2,590.2h3M487.2,590.2h-3M69.2,592.4h3M487.2,592.4h-3" stroke="#858585" stroke-width="0.8" fill="none"/>
<path d="M69.2,608.2h7M487.2,608.2h-7M69.2,620.2h7M487.2,620.2h-7M69.2,632.2h7M487.2,632.2h-7M69.2,644.2h7M487.2,644.2h-7M69.2,656.2h7M487.2,656.2h-7" stroke="#858585" stroke-width="0.8" fill="none"/>
<path d="M69.2,684.9h7M487.2,684.9h-7M69.2,698.6h7M487.2,698.6h-7M69.2,712.3h7M487.2,712.3h-7M69.2,726.0h7M487.2,726.0h-7M69.2,712.3h3M487.2,712.3h-3M69.2,709.6h3M487.2,709.6h-3M69.2,706.8h3M487.2,706.8h-3M69.2,704.1h3M487.2,704.1h-3M69.2,701.3h3M487.2,701.3h-3M69.2,698.6h3M487.2,698.6h-3M69.2,695.9h3M487.2,695.9h-3M69.2,693.1h3M487.2,693.1h-3M69.2,690.4h3M487.2,690.4h-3M69.2,687.6h3M487.2,687.6h-3M69.2,684.9h3M487.2,684.9h-3M69.2,682.2h3M487.2,682.2h-3M69.2,679.4h3M487.2,679.4h-3M69.2,676.7h3M487.2,676.7h-3M69.2,673.9h3M487.2,673.9h-3M69.2,671.2h3M487.2,671.2h-3M69.2,712.3h3M487.2,712.3h-3M69.2,715.0h3M487.2,715.0h-3M69.2,717.8h3M487.2,717.8h-3M69.2,720.5h3M487.2,720.5h-3M69.2,723.3h3M487.2,723.3h-3M69.2,726.0h3M487.2,726.0h-3M69.2,728.7h3M487.2,728.7h-3M69.2,731.5h3M487.2,731.5h-3M69.2,734.2h3M487.2,734.2h-3M69.2,737.0h3M487.2,737.0h-3" stroke="#858585" stroke-width="0.8" fill="none"/>
<line x1="193.6" y1="244.3" x2="200.9" y2="256.6" stroke="#1010ff" stroke-width="1.4"/>
<polygon points="203.7,261.3 198.7,257.9 203.1,255.2" fill="#1010ff"/>
<line x1="250.7" y1="244.5" x2="257.6" y2="256.3" stroke="#1010ff" stroke-width="1.4"/>
<polygon points="260.4,261.0 255.4,257.6 259.9,254.9" fill="#1010ff"/>
<line x1="311.4" y1="246.0" x2="301.5" y2="253.6" stroke="#1010ff" stroke-width="1.4"/>
<polygon points="297.1,256.9 299.9,251.5 303.1,255.6" fill="#1010ff"/>
<line x1="343.6" y1="256.9" x2="333.3" y2="264.6" stroke="#1010ff" stroke-width="1.4"/>
<polygon points="328.9,267.9 331.7,262.5 334.9,266.7" fill="#1010ff"/>
<line x1="227.1" y1="291.1" x2="238.1" y2="286.7" stroke="#1010ff" stroke-width="1.4"/>
<polygon points="243.2,284.6 239.1,289.1 237.1,284.2" fill="#1010ff"/>
<line x1="291.4" y1="298.6" x2="280.8" y2="296.3" stroke="#1010ff" stroke-width="1.4"/>
<polygon points="275.4,295.2 281.3,293.8 280.2,298.9" fill="#1010ff"/>
<line x1="322.5" y1="290.0" x2="314.4" y2="285.3" stroke="#1010ff" stroke-width="1.4"/>
<polygon points="309.6,282.5 315.7,283.0 313.0,287.5" fill="#1010ff"/>
<line x1="299.3" y1="312.7" x2="275.3" y2="314.6" stroke="#000" stroke-width="1.1"/>
<polygon points="269.3,315.1 275.1,312.0 275.5,317.2" fill="#000"/>
<line x1="299.3" y1="313.0" x2="294.9" y2="321.3" stroke="#000" stroke-width="1.1"/>
<polygon points="292.1,326.6 292.6,320.1 297.2,322.5" fill="#000"/>
<line x1="250.0" y1="601.4" x2="257.1" y2="608.4" stroke="#f01010" stroke-width="1.3"/>
<polygon points="262.1,613.3 254.9,610.7 259.4,606.1" fill="#f01010"/>
<line x1="250.7" y1="601.4" x2="280.2" y2="606.4" stroke="#f01010" stroke-width="1.3"/>
<polygon points="287.1,607.6 279.7,609.6 280.7,603.3" fill="#f01010"/>
<text x="75.0" y="8.6" font-size="11" text-anchor="start" fill="#000"  stroke="#000">MMS2</text>
<text x="180.7" y="8.6" font-size="11" text-anchor="start" fill="#e8b41e"  stroke="#e8b41e">Separatrix</text>
<text x="243.0" y="8.6" font-size="11" text-anchor="start" fill="#000"  stroke="#000">IDR</text>
<text x="268" y="8.6" font-size="11" fill="#ff00ff" stroke="#ff00ff">B<tspan font-size="7.5">L</tspan>=0</text>
<text x="303.0" y="8.6" font-size="11" text-anchor="start" fill="#e8b41e"  stroke="#e8b41e">Separatrix</text>
<text x="64.6" y="20.2" font-size="11" text-anchor="end" fill="#000"  stroke="#000">40</text>
<text x="64.6" y="34.9" font-size="11" text-anchor="end" fill="#000"  stroke="#000">20</text>
<text x="64.6" y="52.2" font-size="11" text-anchor="end" fill="#000"  stroke="#000">0</text>
<text x="64.6" y="70.1" font-size="11" text-anchor="end" fill="#000"  stroke="#000">-20</text>
<text x="64.6" y="84.0" font-size="11" text-anchor="end" fill="#000"  stroke="#000">-40</text>
<text x="64.6" y="93.2" font-size="11" text-anchor="end" fill="#000"  stroke="#000">50</text>
<text x="64.6" y="104.6" font-size="11" text-anchor="end" fill="#000"  stroke="#000">40</text>
<text x="64.6" y="118.5" font-size="11" text-anchor="end" fill="#000"  stroke="#000">30</text>
<text x="64.6" y="132.7" font-size="11" text-anchor="end" fill="#000"  stroke="#000">20</text>
<text x="64.6" y="146.7" font-size="11" text-anchor="end" fill="#000"  stroke="#000">10</text>
<text x="64.6" y="156.7" font-size="11" text-anchor="end" fill="#000"  stroke="#000">0</text>
<text x="64.6" y="166.2" font-size="11" text-anchor="end" fill="#000"  stroke="#000">20</text>
<text x="64.6" y="177.4" font-size="11" text-anchor="end" fill="#000"  stroke="#000">10</text>
<text x="64.6" y="191.2" font-size="11" text-anchor="end" fill="#000"  stroke="#000">0</text>
<text x="64.6" y="205.6" font-size="11" text-anchor="end" fill="#000"  stroke="#000">-10</text>
<text x="64.6" y="220.0" font-size="11" text-anchor="end" fill="#000"  stroke="#000">-20</text>
<text x="64.6" y="230.0" font-size="11" text-anchor="end" fill="#000"  stroke="#000">-30</text>
<text x="64.6" y="239.2" font-size="11" text-anchor="end" fill="#000"  stroke="#000">600</text>
<text x="64.6" y="250.6" font-size="11" text-anchor="end" fill="#000"  stroke="#000">400</text>
<text x="64.6" y="264.5" font-size="11" text-anchor="end" fill="#000"  stroke="#000">200</text>
<text x="64.6" y="278.6" font-size="11" text-anchor="end" fill="#000"  stroke="#000">0</text>
<text x="64.6" y="292.7" font-size="11" text-anchor="end" fill="#000"  stroke="#000">-200</text>
<text x="64.6" y="303.0" font-size="11" text-anchor="end" fill="#000"  stroke="#000">-400</text>
<text x="64.6" y="312.2" font-size="11" text-anchor="end" fill="#000"  stroke="#000">3000</text>
<text x="64.6" y="323.6" font-size="11" text-anchor="end" fill="#000"  stroke="#000">2000</text>
<text x="64.6" y="337.5" font-size="11" text-anchor="end" fill="#000"  stroke="#000">1000</text>
<text x="64.6" y="351.6" font-size="11" text-anchor="end" fill="#000"  stroke="#000">0</text>
<text x="64.6" y="365.7" font-size="11" text-anchor="end" fill="#000"  stroke="#000">-1000</text>
<text x="64.6" y="376.0" font-size="11" text-anchor="end" fill="#000"  stroke="#000">-2000</text>
<text x="64.6" y="385.2" font-size="11" text-anchor="end" fill="#000"  stroke="#000">4</text>
<text x="64.6" y="396.6" font-size="11" text-anchor="end" fill="#000"  stroke="#000">3</text>
<text x="64.6" y="410.5" font-size="11" text-anchor="end" fill="#000"  stroke="#000">2</text>
<text x="64.6" y="424.7" font-size="11" text-anchor="end" fill="#000"  stroke="#000">1</text>
<text x="64.6" y="438.8" font-size="11" text-anchor="end" fill="#000"  stroke="#000">0</text>
<text x="64.6" y="449.0" font-size="11" text-anchor="end" fill="#000"  stroke="#000">-1</text>
<text x="64.6" y="458.2" font-size="11" text-anchor="end" fill="#000"  stroke="#000">4</text>
<text x="64.6" y="469.6" font-size="11" text-anchor="end" fill="#000"  stroke="#000">3</text>
<text x="64.6" y="483.5" font-size="11" text-anchor="end" fill="#000"  stroke="#000">2</text>
<text x="64.6" y="497.7" font-size="11" text-anchor="end" fill="#000"  stroke="#000">1</text>
<text x="64.6" y="511.8" font-size="11" text-anchor="end" fill="#000"  stroke="#000">0</text>
<text x="64.6" y="522.0" font-size="11" text-anchor="end" fill="#000"  stroke="#000">-1</text>
<text x="64.8" y="536.1" font-size="10" text-anchor="end" fill="#000"  stroke="#000">8</text>
<text x="64.8" y="545.8" font-size="10" text-anchor="end" fill="#000"  stroke="#000">6</text>
<text x="64.8" y="554.4" font-size="10" text-anchor="end" fill="#000"  stroke="#000">4</text>
<text x="64.8" y="563.4" font-size="10" text-anchor="end" fill="#000"  stroke="#000">2</text>
<text x="64.8" y="571.6" font-size="10" text-anchor="end" fill="#000"  stroke="#000">0</text>
<text x="64.8" y="581.4" font-size="10" text-anchor="end" fill="#000"  stroke="#000">-2</text>
<text x="64.8" y="589.9" font-size="10" text-anchor="end" fill="#000"  stroke="#000">-4</text>
<text x="64.6" y="604.6" font-size="11" text-anchor="end" fill="#000"  stroke="#000">3</text>
<text x="64.6" y="613.0" font-size="11" text-anchor="end" fill="#000"  stroke="#000">2</text>
<text x="64.6" y="625.0" font-size="11" text-anchor="end" fill="#000"  stroke="#000">1</text>
<text x="64.6" y="636.6" font-size="11" text-anchor="end" fill="#000"  stroke="#000">0</text>
<text x="64.6" y="647.9" font-size="11" text-anchor="end" fill="#000"  stroke="#000">-1</text>
<text x="64.6" y="660.1" font-size="11" text-anchor="end" fill="#000"  stroke="#000">-2</text>
<text x="63.2" y="677.2" font-size="11" text-anchor="end" fill="#000"  stroke="#000">0.025</text>
<text x="63.2" y="688.6" font-size="11" text-anchor="end" fill="#000"  stroke="#000">0.020</text>
<text x="63.2" y="702.5" font-size="11" text-anchor="end" fill="#000"  stroke="#000">0.015</text>
<text x="63.2" y="716.7" font-size="11" text-anchor="end" fill="#000"  stroke="#000">0.010</text>
<text x="63.2" y="730.7" font-size="11" text-anchor="end" fill="#000"  stroke="#000">0.005</text>
<text x="63.2" y="741.0" font-size="11" text-anchor="end" fill="#000"  stroke="#000">0.000</text>
<text x="78.8" y="32.7" font-size="12.5" text-anchor="start" fill="#000"  stroke="#000">(a)</text>
<text x="78.8" y="108.2" font-size="12.5" text-anchor="start" fill="#000"  stroke="#000">(b)</text>
<text x="78.8" y="181.4" font-size="12.5" text-anchor="start" fill="#000"  stroke="#000">(c)</text>
<text x="78.8" y="256.0" font-size="12.5" text-anchor="start" fill="#000"  stroke="#000">(d)</text>
<text x="78.8" y="326.9" font-size="12.5" text-anchor="start" fill="#000"  stroke="#000">(e)</text>
<text x="78.8" y="440.9" font-size="12.5" text-anchor="start" fill="#000"  stroke="#000">(f)</text>
<text x="78.8" y="513.7" font-size="12.5" text-anchor="start" fill="#000"  stroke="#000">(g)</text>
<text x="78.8" y="546.2" font-size="12.5" text-anchor="start" fill="#000"  stroke="#000">(h)</text>
<text x="78.8" y="620.2" font-size="12.5" text-anchor="start" fill="#000"  stroke="#000">(i)</text>
<text x="78.8" y="694.4" font-size="12.5" text-anchor="start" fill="#000"  stroke="#000">(j)</text>
<text transform="translate(20.7,45.5) rotate(-90)" font-size="11" text-anchor="middle" textLength="28.1" lengthAdjust="spacingAndGlyphs" stroke="#000">B lmn</text>
<text transform="translate(32.5,45.1) rotate(-90)" font-size="11" text-anchor="middle" textLength="18.1" lengthAdjust="spacingAndGlyphs" stroke="#000">[nT]</text>
<text transform="translate(17.4,134.8) rotate(-90)" font-size="11" text-anchor="middle" textLength="12.8" lengthAdjust="spacingAndGlyphs" stroke="#000">Ne</text>
<text transform="translate(17.2,109.9) rotate(-90)" font-size="11" text-anchor="middle" textLength="11.4" lengthAdjust="spacingAndGlyphs" stroke="#000">|B|</text>
<text transform="translate(31.6,123.8) rotate(-90)" font-size="11" text-anchor="middle" textLength="53.9" lengthAdjust="spacingAndGlyphs" stroke="#000">[cm<tspan font-size="7.5" dy="-4">-3</tspan><tspan dy="4">] [nT]</tspan></text>
<text transform="translate(17.6,192.5) rotate(-90)" font-size="11" text-anchor="middle" stroke="#000">Vi</text>
<text transform="translate(31.1,193.3) rotate(-90)" font-size="11" text-anchor="middle" textLength="30.3" lengthAdjust="spacingAndGlyphs" stroke="#000">[km/s]</text>
<text transform="translate(17.0,266.8) rotate(-90)" font-size="11" text-anchor="middle" textLength="12.7" lengthAdjust="spacingAndGlyphs" stroke="#000">Ve</text>
<text transform="translate(28.3,266.8) rotate(-90)" font-size="11" text-anchor="middle" textLength="29.7" lengthAdjust="spacingAndGlyphs" stroke="#000">[km/s]</text>
<text transform="translate(16.0,339.8) rotate(-90)" font-size="11" text-anchor="middle" textLength="11.1" lengthAdjust="spacingAndGlyphs" stroke="#000">Jp</text>
<text transform="translate(27.4,341.0) rotate(-90)" font-size="11" text-anchor="middle" textLength="35.6" lengthAdjust="spacingAndGlyphs" stroke="#000">[nA/m<tspan font-size="7.5" dy="-4">2</tspan><tspan dy="4">]</tspan></text>
<text transform="translate(15.0,419.0) rotate(-90)" font-size="11" text-anchor="middle" textLength="10.5" lengthAdjust="spacingAndGlyphs" stroke="#000">E<tspan font-size="7.5" dy="2.2">L</tspan></text>
<text transform="translate(32.2,419.0) rotate(-90)" font-size="11" text-anchor="middle" textLength="36" lengthAdjust="spacingAndGlyphs" stroke="#000">[mV/m]</text>
<text transform="translate(15.7,485.8) rotate(-90)" font-size="11" text-anchor="middle" textLength="13.5" lengthAdjust="spacingAndGlyphs" stroke="#000">E<tspan font-size="7.5" dy="2.2">M</tspan></text>
<text transform="translate(32.2,485.0) rotate(-90)" font-size="11" text-anchor="middle" textLength="36.5" lengthAdjust="spacingAndGlyphs" stroke="#000">[mV/m]</text>
<text transform="translate(16.0,559.0) rotate(-90)" font-size="11" text-anchor="middle" textLength="10.7" lengthAdjust="spacingAndGlyphs" stroke="#000">E<tspan font-size="7.5" dy="2.2">N</tspan></text>
<text transform="translate(28.7,559.2) rotate(-90)" font-size="11" text-anchor="middle" textLength="36" lengthAdjust="spacingAndGlyphs" stroke="#000">[mV/m]</text>
<text transform="translate(16.5,639.2) rotate(-90)" font-size="11" text-anchor="middle" textLength="12.4" lengthAdjust="spacingAndGlyphs" stroke="#000">J.E'</text>
<text transform="translate(30.0,634.3) rotate(-90)" font-size="11" text-anchor="middle" textLength="44.6" lengthAdjust="spacingAndGlyphs" stroke="#000">[nW/m<tspan font-size="7.5" dy="-4">3</tspan><tspan dy="4"> ]</tspan></text>
<text transform="translate(26.5,704.4) rotate(-90)" font-size="11" text-anchor="middle" textLength="26.1" lengthAdjust="spacingAndGlyphs" stroke="#000">Q<tspan font-size="7.5" dy="-4">0.5</tspan></text>
<text x="493.8" y="30.6" font-size="11" fill="#1010ff" stroke="#1010ff">B<tspan font-size="7.5" dx="2" dy="2">L</tspan><tspan dy="-2"></tspan></text>
<text x="493.8" y="54" font-size="11" fill="#12e012" stroke="#12e012">B<tspan font-size="7.5" dx="2" dy="2">M</tspan><tspan dy="-2"></tspan></text>
<text x="493.8" y="76.6" font-size="11" fill="#f01010" stroke="#f01010">B<tspan font-size="7.5" dx="2" dy="2">N</tspan><tspan dy="-2"></tspan></text>
<text x="493.8" y="113.9" font-size="11" text-anchor="start" fill="#1010ff"  stroke="#1010ff">Ne</text>
<text x="493.8" y="139.4" font-size="11" text-anchor="start" fill="#000"  stroke="#000">|B|</text>
<text x="493.2" y="177.4" font-size="11" fill="#1010ff" stroke="#1010ff">V<tspan font-size="7.5" dx="0" dy="2">L</tspan><tspan dy="-2"> -50 km/s</tspan></text>
<text x="493.2" y="200.0" font-size="11" fill="#12e012" stroke="#12e012">V<tspan font-size="7.5" dx="0" dy="2">M</tspan><tspan dy="-2">+100 km/s</tspan></text>
<text x="493.2" y="222.3" font-size="11" fill="#f01010" stroke="#f01010">V<tspan font-size="7.5" dx="0" dy="2">N</tspan><tspan dy="-2"> +60 km/s</tspan></text>
<text x="493.2" y="251.4" font-size="11" fill="#1010ff" stroke="#1010ff">V<tspan font-size="7.5" dx="0" dy="2">L</tspan><tspan dy="-2"> -50 km/s</tspan></text>
<text x="493.2" y="274.0" font-size="11" fill="#12e012" stroke="#12e012">V<tspan font-size="7.5" dx="0" dy="2">M</tspan><tspan dy="-2">+100 km/s</tspan></text>
<text x="493.2" y="296.3" font-size="11" fill="#f01010" stroke="#f01010">V<tspan font-size="7.5" dx="0" dy="2">N</tspan><tspan dy="-2"> +60 km/s</tspan></text>
<text x="493.2" y="323.1" font-size="11" fill="#1010ff" stroke="#1010ff">J<tspan font-size="7.5" dx="1" dy="2">L</tspan><tspan dy="-2"></tspan></text>
<text x="493.2" y="338.2" font-size="11" fill="#12e012" stroke="#12e012">J<tspan font-size="7.5" dx="1" dy="2">M</tspan><tspan dy="-2"></tspan></text>
<text x="493.2" y="351.3" font-size="11" fill="#f01010" stroke="#f01010">J<tspan font-size="7.5" dx="1" dy="2">N</tspan><tspan dy="-2"></tspan></text>
<text x="493.2" y="368.5" font-size="11" text-anchor="start" fill="#000"  stroke="#000">|Jp|</text>
<text x="493.5" y="394" font-size="11" fill="#000" stroke="#000">E<tspan font-size="7.5" dx="2" dy="2">L</tspan><tspan dy="-2"></tspan></text>
<text x="493.5" y="416.2" font-size="11" text-anchor="start" fill="#1010ff"  stroke="#1010ff">-VixB</text>
<text x="493.5" y="438.9" font-size="11" text-anchor="start" fill="#f01010"  stroke="#f01010">-VexB</text>
<text x="493.5" y="469.6" font-size="11" fill="#000" stroke="#000">E<tspan font-size="7.5" dx="2" dy="2">M</tspan><tspan dy="-2"></tspan></text>
<text x="493.5" y="491.8" font-size="11" text-anchor="start" fill="#1010ff"  stroke="#1010ff">-VixB</text>
<text x="493.5" y="514.5" font-size="11" text-anchor="start" fill="#f01010"  stroke="#f01010">-VexB</text>
<text x="493.5" y="541.6" font-size="11" fill="#000" stroke="#000">E<tspan font-size="7.5" dx="2" dy="2">N</tspan><tspan dy="-2"></tspan></text>
<text x="493.5" y="563.8" font-size="11" text-anchor="start" fill="#1010ff"  stroke="#1010ff">-VixB</text>
<text x="493.5" y="586.5" font-size="11" text-anchor="start" fill="#f01010"  stroke="#f01010">-VexB</text>
<text x="492.7" y="616.8" font-size="11" text-anchor="start" fill="#1010ff"  stroke="#1010ff">L</text>
<text x="492.7" y="631.7" font-size="11" text-anchor="start" fill="#000"  stroke="#000">M</text>
<text x="492.7" y="646.2" font-size="11" text-anchor="start" fill="#f01010"  stroke="#f01010">N</text>
<text x="492.7" y="660.8" font-size="11" text-anchor="start" fill="#f5b000"  stroke="#f5b000">Error</text>
<text x="145.2" y="755.4" font-size="11" text-anchor="middle" fill="#000"  stroke="#000">18</text>
<text x="297.2" y="755.4" font-size="11" text-anchor="middle" fill="#000"  stroke="#000">20</text>
<text x="449.2" y="755.4" font-size="11" text-anchor="middle" fill="#000"  stroke="#000">22</text>
<text x="0.0" y="755.4" font-size="11" text-anchor="start" fill="#000"  stroke="#000">Seconds</text>
<text x="0.0" y="764.8" font-size="11" text-anchor="start" fill="#000"  stroke="#000">2015 Oct 05 0636:</text>
<text x="178.9" y="258.7" font-size="9" font-weight="bold" fill="#1010ff" textLength="17.9" lengthAdjust="spacingAndGlyphs" stroke="#1010ff">+EF1</text>
<text x="233.9" y="255.2" font-size="9" font-weight="bold" fill="#1010ff" textLength="17.6" lengthAdjust="spacingAndGlyphs" stroke="#1010ff">+EF2</text>
<text x="305.0" y="262.6" font-size="9" font-weight="bold" fill="#1010ff" textLength="19.0" lengthAdjust="spacingAndGlyphs" stroke="#1010ff">+EF3</text>
<text x="341.1" y="267.9" font-size="9" font-weight="bold" fill="#1010ff" textLength="18.2" lengthAdjust="spacingAndGlyphs" stroke="#1010ff">+EF4</text>
<text x="232.5" y="298.1" font-size="9" font-weight="bold" fill="#1010ff" textLength="15.0" lengthAdjust="spacingAndGlyphs" stroke="#1010ff">-EF1</text>
<text x="286.1" y="296.0" font-size="9" font-weight="bold" fill="#1010ff" textLength="15.6" lengthAdjust="spacingAndGlyphs" stroke="#1010ff">-EF2</text>
<text x="320.4" y="294.3" font-size="9" font-weight="bold" fill="#1010ff" textLength="16.0" lengthAdjust="spacingAndGlyphs" stroke="#1010ff">-EF3</text>
<text x="300" y="315.6" font-size="10.5" textLength="38.1" lengthAdjust="spacingAndGlyphs" stroke="#000">filaments</text>
<text x="224.3" y="607.9" font-size="11" fill="#f01010" textLength="24.7" lengthAdjust="spacingAndGlyphs" stroke="#f01010">EDRs</text>
</svg>
</body></html>
